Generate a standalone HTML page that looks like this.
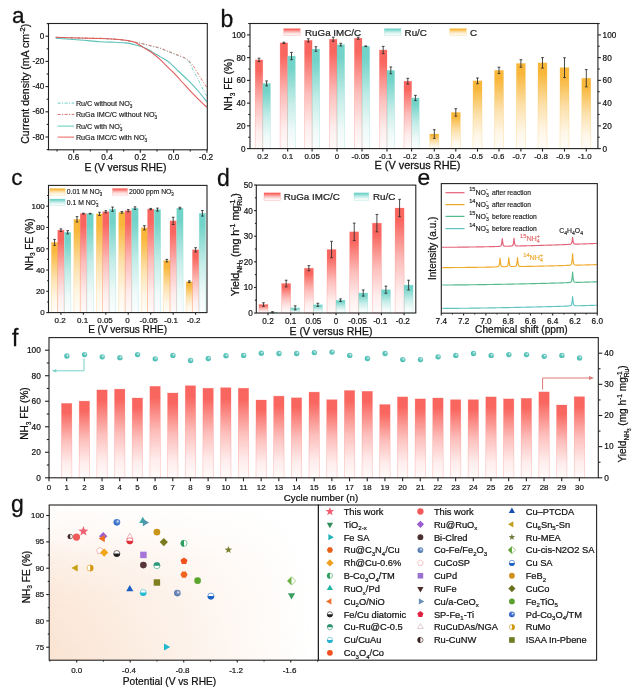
<!DOCTYPE html>
<html><head><meta charset="utf-8"><style>
html,body{margin:0;padding:0;background:#fff;width:642px;height:700px;overflow:hidden;}
svg{display:block;font-family:"Liberation Sans", sans-serif;filter:blur(0.35px);}
</style></head><body>
<svg width="642" height="700" viewBox="0 0 642 700">
<defs><linearGradient id="gr" x1="0" y1="0" x2="0" y2="1"><stop offset="0" stop-color="#f9665f"/><stop offset="0.12" stop-color="#f9665f"/><stop offset="0.5" stop-color="#f9665f" stop-opacity="0.42"/><stop offset="0.8" stop-color="#f9665f" stop-opacity="0.12"/><stop offset="1" stop-color="#f9665f" stop-opacity="0.03"/></linearGradient><linearGradient id="gt" x1="0" y1="0" x2="0" y2="1"><stop offset="0" stop-color="#72d3c8"/><stop offset="0.12" stop-color="#72d3c8"/><stop offset="0.5" stop-color="#72d3c8" stop-opacity="0.42"/><stop offset="0.8" stop-color="#72d3c8" stop-opacity="0.12"/><stop offset="1" stop-color="#72d3c8" stop-opacity="0.03"/></linearGradient><linearGradient id="gy" x1="0" y1="0" x2="0" y2="1"><stop offset="0" stop-color="#f8b73b"/><stop offset="0.12" stop-color="#f8b73b"/><stop offset="0.5" stop-color="#f8b73b" stop-opacity="0.42"/><stop offset="0.8" stop-color="#f8b73b" stop-opacity="0.12"/><stop offset="1" stop-color="#f8b73b" stop-opacity="0.03"/></linearGradient><linearGradient id="gf" x1="0" y1="0" x2="0" y2="1"><stop offset="0" stop-color="#f9665f"/><stop offset="0.12" stop-color="#f9665f"/><stop offset="0.5" stop-color="#f9665f" stop-opacity="0.42"/><stop offset="0.8" stop-color="#f9665f" stop-opacity="0.12"/><stop offset="1" stop-color="#f9665f" stop-opacity="0.03"/></linearGradient><radialGradient id="sp3bb8ad" cx="0.62" cy="0.38" r="0.7"><stop offset="0" stop-color="#fff"/><stop offset="0.35" stop-color="#3bb8ad" stop-opacity="0.75"/><stop offset="1" stop-color="#3bb8ad"/></radialGradient><linearGradient id="gbgv" x1="0" y1="0" x2="0" y2="1"><stop offset="0" stop-color="#f9dcc6" stop-opacity="0.04"/><stop offset="0.2" stop-color="#f9dcc6" stop-opacity="0.2"/><stop offset="0.36" stop-color="#f9dcc6" stop-opacity="0.45"/><stop offset="0.6" stop-color="#f9dcc6" stop-opacity="0.66"/><stop offset="1" stop-color="#f9dcc6" stop-opacity="0.78"/></linearGradient><linearGradient id="gbgh" x1="0" y1="0" x2="1" y2="0"><stop offset="0" stop-color="#fff"/><stop offset="0.5" stop-color="#fff" stop-opacity="0.5"/><stop offset="0.92" stop-color="#fff" stop-opacity="0.04"/><stop offset="1" stop-color="#fff" stop-opacity="0"/></linearGradient><mask id="gbgm" maskUnits="userSpaceOnUse" x="49.2" y="505" width="269.2" height="155.2"><rect x="49.2" y="505" width="269.2" height="155.2" fill="url(#gbgh)"/></mask><radialGradient id="sp1f5fc4" cx="0.62" cy="0.38" r="0.7"><stop offset="0" stop-color="#fff"/><stop offset="0.35" stop-color="#1f5fc4" stop-opacity="0.75"/><stop offset="1" stop-color="#1f5fc4"/></radialGradient><radialGradient id="sp4a6ea8" cx="0.62" cy="0.38" r="0.7"><stop offset="0" stop-color="#fff"/><stop offset="0.35" stop-color="#4a6ea8" stop-opacity="0.75"/><stop offset="1" stop-color="#4a6ea8"/></radialGradient><radialGradient id="sp3f6ea8" cx="0.62" cy="0.38" r="0.7"><stop offset="0" stop-color="#fff"/><stop offset="0.35" stop-color="#3f6ea8" stop-opacity="0.75"/><stop offset="1" stop-color="#3f6ea8"/></radialGradient><radialGradient id="sp1a50c0" cx="0.62" cy="0.38" r="0.7"><stop offset="0" stop-color="#fff"/><stop offset="0.35" stop-color="#1a50c0" stop-opacity="0.75"/><stop offset="1" stop-color="#1a50c0"/></radialGradient></defs>
<text x="11.9" y="22.9" font-size="22.5" text-anchor="start" fill="#111" stroke="#111" stroke-width="0.28">a</text>
<path d="M55.7,37.6 C59.75,37.72 72.62,38.13 80,38.3 C87.38,38.47 93.33,38.35 100,38.6 C106.67,38.85 114.28,39.18 120,39.8 C125.72,40.42 130.5,41.6 134.3,42.3 C138.1,43 139.95,43.35 142.8,44 C145.65,44.65 148.53,45.47 151.4,46.2 C154.27,46.93 157.15,47.47 160,48.4 C162.85,49.33 165.65,50.67 168.5,51.8 C171.35,52.93 174.23,54.03 177.1,55.2 C179.97,56.37 183.57,57.48 185.7,58.8 C187.83,60.12 188.68,61.23 189.9,63.1 C191.12,64.97 191.82,67.63 193,70 C194.18,72.37 195.17,73.73 197,77.3 C198.83,80.87 202.37,88.25 204,91.4 C205.63,94.55 206.33,95.4 206.8,96.2" fill="none" stroke="#6fcfc6" stroke-width="0.9" stroke-linejoin="round" stroke-dasharray="3 1.6 1 1.6"/>
<path d="M55.7,37.3 C59.75,37.42 72.62,37.85 80,38 C87.38,38.15 93.33,37.95 100,38.2 C106.67,38.45 114.28,38.87 120,39.5 C125.72,40.13 130.5,41.3 134.3,42 C138.1,42.7 139.95,43.07 142.8,43.7 C145.65,44.33 148.53,45.08 151.4,45.8 C154.27,46.52 157.15,47.07 160,48 C162.85,48.93 165.65,50.27 168.5,51.4 C171.35,52.53 174.23,53.65 177.1,54.8 C179.97,55.95 183.57,57.1 185.7,58.3 C187.83,59.5 188.52,60.55 189.9,62 C191.28,63.45 192.43,64.72 194,67 C195.57,69.28 197.17,72.28 199.3,75.7 C201.43,79.12 205.55,85.53 206.8,87.5" fill="none" stroke="#d9706c" stroke-width="0.9" stroke-linejoin="round" stroke-dasharray="3 1.6 1 1.6"/>
<path d="M55.7,38.3 C59.75,38.58 72.62,39.43 80,40 C87.38,40.57 94.17,41.32 100,41.7 C105.83,42.08 110.72,42.1 115,42.3 C119.28,42.5 122.48,42.52 125.7,42.9 C128.92,43.28 131.45,43.9 134.3,44.6 C137.15,45.3 139.95,45.97 142.8,47.1 C145.65,48.23 148.53,49.82 151.4,51.4 C154.27,52.98 157.15,54.88 160,56.6 C162.85,58.32 165.88,59.7 168.5,61.7 C171.12,63.7 172.83,65.88 175.7,68.6 C178.57,71.32 183.08,75.5 185.7,78 C188.32,80.5 189.18,81.27 191.4,83.6 C193.62,85.93 196.43,88.98 199,92 C201.57,95.02 205.5,100.08 206.8,101.7" fill="none" stroke="#5cc2b8" stroke-width="1.1" stroke-linejoin="round"/>
<path d="M55.7,37.3 C59.75,37.42 72.62,37.8 80,38 C87.38,38.2 94.17,38.28 100,38.5 C105.83,38.72 110.72,39 115,39.3 C119.28,39.6 122.48,39.85 125.7,40.3 C128.92,40.75 131.45,40.87 134.3,42 C137.15,43.13 139.95,45.38 142.8,47.1 C145.65,48.82 148.53,50.25 151.4,52.3 C154.27,54.35 157.15,56.8 160,59.4 C162.85,62 165.88,65.32 168.5,67.9 C171.12,70.48 173.28,72.38 175.7,74.9 C178.12,77.42 180.38,80.12 183,83 C185.62,85.88 188.73,89.4 191.4,92.2 C194.07,95 196.43,97.3 199,99.8 C201.57,102.3 205.5,105.97 206.8,107.2" fill="none" stroke="#e05c5c" stroke-width="1.1" stroke-linejoin="round"/>
<line x1="57.6" y1="103.1" x2="74.2" y2="103.1" stroke="#66cfc4" stroke-width="1" stroke-dasharray="3 1.5 1 1.5"/>
<text x="75.9" y="105.7" font-size="7.2" text-anchor="start" fill="#222" stroke="#222" stroke-width="0.17"><tspan font-size="7.2">Ru/C without </tspan><tspan font-size="7.2">NO</tspan><tspan font-size="4.68" dy="2.02">3</tspan><tspan font-size="4.68" dy="-4.75" dx="-2.61">-</tspan></text>
<line x1="57.6" y1="114.4" x2="74.2" y2="114.4" stroke="#d9706c" stroke-width="1" stroke-dasharray="3 1.5 1 1.5"/>
<text x="75.9" y="117" font-size="7.2" text-anchor="start" fill="#222" stroke="#222" stroke-width="0.17"><tspan font-size="7.2">RuGa IMC/C without </tspan><tspan font-size="7.2">NO</tspan><tspan font-size="4.68" dy="2.02">3</tspan><tspan font-size="4.68" dy="-4.75" dx="-2.61">-</tspan></text>
<line x1="57.6" y1="126.1" x2="74.2" y2="126.1" stroke="#5fcdc2" stroke-width="1"/>
<text x="75.9" y="128.7" font-size="7.2" text-anchor="start" fill="#222" stroke="#222" stroke-width="0.17"><tspan font-size="7.2">Ru/C with </tspan><tspan font-size="7.2">NO</tspan><tspan font-size="4.68" dy="2.02">3</tspan><tspan font-size="4.68" dy="-4.75" dx="-2.61">-</tspan></text>
<line x1="57.6" y1="137.1" x2="74.2" y2="137.1" stroke="#e8605d" stroke-width="1"/>
<text x="75.9" y="139.7" font-size="7.2" text-anchor="start" fill="#222" stroke="#222" stroke-width="0.17"><tspan font-size="7.2">RuGa IMC/C with </tspan><tspan font-size="7.2">NO</tspan><tspan font-size="4.68" dy="2.02">3</tspan><tspan font-size="4.68" dy="-4.75" dx="-2.61">-</tspan></text>
<rect x="48.5" y="23.5" width="158.8" height="126.3" fill="none" stroke="#222" stroke-width="1.1"/>
<line x1="73.7" y1="149.8" x2="73.7" y2="152.8" stroke="#222" stroke-width="1.1"/>
<text x="73.7" y="159.8" font-size="8.2" text-anchor="middle" fill="#111" stroke="#111" stroke-width="0.2">0.6</text>
<line x1="107" y1="149.8" x2="107" y2="152.8" stroke="#222" stroke-width="1.1"/>
<text x="107" y="159.8" font-size="8.2" text-anchor="middle" fill="#111" stroke="#111" stroke-width="0.2">0.4</text>
<line x1="140.3" y1="149.8" x2="140.3" y2="152.8" stroke="#222" stroke-width="1.1"/>
<text x="140.3" y="159.8" font-size="8.2" text-anchor="middle" fill="#111" stroke="#111" stroke-width="0.2">0.2</text>
<line x1="173.6" y1="149.8" x2="173.6" y2="152.8" stroke="#222" stroke-width="1.1"/>
<text x="173.6" y="159.8" font-size="8.2" text-anchor="middle" fill="#111" stroke="#111" stroke-width="0.2">0.0</text>
<line x1="206.9" y1="149.8" x2="206.9" y2="152.8" stroke="#222" stroke-width="1.1"/>
<text x="206" y="159.8" font-size="8.2" text-anchor="middle" fill="#111" stroke="#111" stroke-width="0.2">-0.2</text>
<line x1="57.05" y1="149.8" x2="57.05" y2="151.6" stroke="#222" stroke-width="1.1"/>
<line x1="90.35" y1="149.8" x2="90.35" y2="151.6" stroke="#222" stroke-width="1.1"/>
<line x1="123.65" y1="149.8" x2="123.65" y2="151.6" stroke="#222" stroke-width="1.1"/>
<line x1="156.95" y1="149.8" x2="156.95" y2="151.6" stroke="#222" stroke-width="1.1"/>
<line x1="190.25" y1="149.8" x2="190.25" y2="151.6" stroke="#222" stroke-width="1.1"/>
<line x1="45.5" y1="36.2" x2="48.5" y2="36.2" stroke="#222" stroke-width="1.1"/>
<text x="44.4" y="38.8" font-size="8.2" text-anchor="end" fill="#111" stroke="#111" stroke-width="0.2">0</text>
<line x1="45.5" y1="61.4" x2="48.5" y2="61.4" stroke="#222" stroke-width="1.1"/>
<text x="44.4" y="64" font-size="8.2" text-anchor="end" fill="#111" stroke="#111" stroke-width="0.2">-20</text>
<line x1="45.5" y1="86.6" x2="48.5" y2="86.6" stroke="#222" stroke-width="1.1"/>
<text x="44.4" y="89.2" font-size="8.2" text-anchor="end" fill="#111" stroke="#111" stroke-width="0.2">-40</text>
<line x1="45.5" y1="111.8" x2="48.5" y2="111.8" stroke="#222" stroke-width="1.1"/>
<text x="44.4" y="114.4" font-size="8.2" text-anchor="end" fill="#111" stroke="#111" stroke-width="0.2">-60</text>
<line x1="45.5" y1="137" x2="48.5" y2="137" stroke="#222" stroke-width="1.1"/>
<text x="44.4" y="139.6" font-size="8.2" text-anchor="end" fill="#111" stroke="#111" stroke-width="0.2">-80</text>
<line x1="46.7" y1="23.6" x2="48.5" y2="23.6" stroke="#222" stroke-width="1.1"/>
<line x1="46.7" y1="48.8" x2="48.5" y2="48.8" stroke="#222" stroke-width="1.1"/>
<line x1="46.7" y1="74" x2="48.5" y2="74" stroke="#222" stroke-width="1.1"/>
<line x1="46.7" y1="99.2" x2="48.5" y2="99.2" stroke="#222" stroke-width="1.1"/>
<line x1="46.7" y1="124.4" x2="48.5" y2="124.4" stroke="#222" stroke-width="1.1"/>
<line x1="46.7" y1="149.6" x2="48.5" y2="149.6" stroke="#222" stroke-width="1.1"/>
<text x="125.4" y="171" font-size="10.4" text-anchor="middle" fill="#111" stroke="#111" stroke-width="0.25">E (V versus RHE)</text>
<text x="29.4" y="83.8" font-size="10.5" text-anchor="middle" fill="#111" stroke="#111" stroke-width="0.25" transform="rotate(-90 29.4 83.8)"><tspan font-size="10.5">Current density (mA cm</tspan><tspan font-size="7.56" dy="-4.41">-2</tspan><tspan font-size="10.5" dy="4.41">)</tspan></text>
<text x="220.6" y="27.1" font-size="23" text-anchor="start" fill="#111" stroke="#111" stroke-width="0.28">b</text>
<rect x="255.2" y="59.91" width="7.6" height="88.69" fill="url(#gr)" stroke="#f9665f" stroke-width="0.6" stroke-opacity="0.38"/>
<rect x="262.8" y="83.45" width="7.6" height="65.15" fill="url(#gt)" stroke="#72d3c8" stroke-width="0.6" stroke-opacity="0.38"/>
<line x1="259" y1="58.21" x2="259" y2="61.62" stroke="#2a2a2a" stroke-width="0.85"/>
<line x1="257.65" y1="58.21" x2="260.35" y2="58.21" stroke="#2a2a2a" stroke-width="0.85"/>
<line x1="257.65" y1="61.62" x2="260.35" y2="61.62" stroke="#2a2a2a" stroke-width="0.85"/>
<line x1="266.6" y1="80.95" x2="266.6" y2="85.95" stroke="#2a2a2a" stroke-width="0.85"/>
<line x1="265.25" y1="80.95" x2="267.95" y2="80.95" stroke="#2a2a2a" stroke-width="0.85"/>
<line x1="265.25" y1="85.95" x2="267.95" y2="85.95" stroke="#2a2a2a" stroke-width="0.85"/>
<rect x="280.1" y="42.86" width="7.6" height="105.74" fill="url(#gr)" stroke="#f9665f" stroke-width="0.6" stroke-opacity="0.38"/>
<rect x="287.7" y="56.05" width="7.6" height="92.55" fill="url(#gt)" stroke="#72d3c8" stroke-width="0.6" stroke-opacity="0.38"/>
<line x1="283.9" y1="42.18" x2="283.9" y2="43.54" stroke="#2a2a2a" stroke-width="0.85"/>
<line x1="282.55" y1="42.18" x2="285.25" y2="42.18" stroke="#2a2a2a" stroke-width="0.85"/>
<line x1="282.55" y1="43.54" x2="285.25" y2="43.54" stroke="#2a2a2a" stroke-width="0.85"/>
<line x1="291.5" y1="52.41" x2="291.5" y2="59.69" stroke="#2a2a2a" stroke-width="0.85"/>
<line x1="290.15" y1="52.41" x2="292.85" y2="52.41" stroke="#2a2a2a" stroke-width="0.85"/>
<line x1="290.15" y1="59.69" x2="292.85" y2="59.69" stroke="#2a2a2a" stroke-width="0.85"/>
<rect x="304.5" y="40.36" width="7.6" height="108.24" fill="url(#gr)" stroke="#f9665f" stroke-width="0.6" stroke-opacity="0.38"/>
<rect x="312.1" y="49" width="7.6" height="99.6" fill="url(#gt)" stroke="#72d3c8" stroke-width="0.6" stroke-opacity="0.38"/>
<line x1="308.3" y1="38.77" x2="308.3" y2="41.95" stroke="#2a2a2a" stroke-width="0.85"/>
<line x1="306.95" y1="38.77" x2="309.65" y2="38.77" stroke="#2a2a2a" stroke-width="0.85"/>
<line x1="306.95" y1="41.95" x2="309.65" y2="41.95" stroke="#2a2a2a" stroke-width="0.85"/>
<line x1="315.9" y1="46.72" x2="315.9" y2="51.27" stroke="#2a2a2a" stroke-width="0.85"/>
<line x1="314.55" y1="46.72" x2="317.25" y2="46.72" stroke="#2a2a2a" stroke-width="0.85"/>
<line x1="314.55" y1="51.27" x2="317.25" y2="51.27" stroke="#2a2a2a" stroke-width="0.85"/>
<rect x="329.4" y="39.22" width="7.6" height="109.38" fill="url(#gr)" stroke="#f9665f" stroke-width="0.6" stroke-opacity="0.38"/>
<rect x="337" y="44.68" width="7.6" height="103.92" fill="url(#gt)" stroke="#72d3c8" stroke-width="0.6" stroke-opacity="0.38"/>
<line x1="333.2" y1="37.17" x2="333.2" y2="41.27" stroke="#2a2a2a" stroke-width="0.85"/>
<line x1="331.85" y1="37.17" x2="334.55" y2="37.17" stroke="#2a2a2a" stroke-width="0.85"/>
<line x1="331.85" y1="41.27" x2="334.55" y2="41.27" stroke="#2a2a2a" stroke-width="0.85"/>
<line x1="340.8" y1="43.31" x2="340.8" y2="46.04" stroke="#2a2a2a" stroke-width="0.85"/>
<line x1="339.45" y1="43.31" x2="342.15" y2="43.31" stroke="#2a2a2a" stroke-width="0.85"/>
<line x1="339.45" y1="46.04" x2="342.15" y2="46.04" stroke="#2a2a2a" stroke-width="0.85"/>
<rect x="354.4" y="38.2" width="7.6" height="110.4" fill="url(#gr)" stroke="#f9665f" stroke-width="0.6" stroke-opacity="0.38"/>
<rect x="362" y="46.27" width="7.6" height="102.33" fill="url(#gt)" stroke="#72d3c8" stroke-width="0.6" stroke-opacity="0.38"/>
<line x1="358.2" y1="37.17" x2="358.2" y2="39.22" stroke="#2a2a2a" stroke-width="0.85"/>
<line x1="356.85" y1="37.17" x2="359.55" y2="37.17" stroke="#2a2a2a" stroke-width="0.85"/>
<line x1="356.85" y1="39.22" x2="359.55" y2="39.22" stroke="#2a2a2a" stroke-width="0.85"/>
<line x1="365.8" y1="45.93" x2="365.8" y2="46.61" stroke="#2a2a2a" stroke-width="0.85"/>
<line x1="364.45" y1="45.93" x2="367.15" y2="45.93" stroke="#2a2a2a" stroke-width="0.85"/>
<line x1="364.45" y1="46.61" x2="367.15" y2="46.61" stroke="#2a2a2a" stroke-width="0.85"/>
<rect x="379.4" y="50.02" width="7.6" height="98.58" fill="url(#gr)" stroke="#f9665f" stroke-width="0.6" stroke-opacity="0.38"/>
<rect x="387" y="70.37" width="7.6" height="78.23" fill="url(#gt)" stroke="#72d3c8" stroke-width="0.6" stroke-opacity="0.38"/>
<line x1="383.2" y1="46.38" x2="383.2" y2="53.66" stroke="#2a2a2a" stroke-width="0.85"/>
<line x1="381.85" y1="46.38" x2="384.55" y2="46.38" stroke="#2a2a2a" stroke-width="0.85"/>
<line x1="381.85" y1="53.66" x2="384.55" y2="53.66" stroke="#2a2a2a" stroke-width="0.85"/>
<line x1="390.8" y1="66.96" x2="390.8" y2="73.79" stroke="#2a2a2a" stroke-width="0.85"/>
<line x1="389.45" y1="66.96" x2="392.15" y2="66.96" stroke="#2a2a2a" stroke-width="0.85"/>
<line x1="389.45" y1="73.79" x2="392.15" y2="73.79" stroke="#2a2a2a" stroke-width="0.85"/>
<rect x="404" y="81.18" width="7.6" height="67.42" fill="url(#gr)" stroke="#f9665f" stroke-width="0.6" stroke-opacity="0.38"/>
<rect x="411.6" y="98" width="7.6" height="50.6" fill="url(#gt)" stroke="#72d3c8" stroke-width="0.6" stroke-opacity="0.38"/>
<line x1="407.8" y1="78.33" x2="407.8" y2="84.02" stroke="#2a2a2a" stroke-width="0.85"/>
<line x1="406.45" y1="78.33" x2="409.15" y2="78.33" stroke="#2a2a2a" stroke-width="0.85"/>
<line x1="406.45" y1="84.02" x2="409.15" y2="84.02" stroke="#2a2a2a" stroke-width="0.85"/>
<line x1="415.4" y1="95.39" x2="415.4" y2="100.62" stroke="#2a2a2a" stroke-width="0.85"/>
<line x1="414.05" y1="95.39" x2="416.75" y2="95.39" stroke="#2a2a2a" stroke-width="0.85"/>
<line x1="414.05" y1="100.62" x2="416.75" y2="100.62" stroke="#2a2a2a" stroke-width="0.85"/>
<rect x="429.8" y="134.05" width="9" height="14.55" fill="url(#gy)" stroke="#f8b73b" stroke-width="0.6" stroke-opacity="0.38"/>
<line x1="434.3" y1="129.73" x2="434.3" y2="138.37" stroke="#2a2a2a" stroke-width="0.85"/>
<line x1="432.95" y1="129.73" x2="435.65" y2="129.73" stroke="#2a2a2a" stroke-width="0.85"/>
<line x1="432.95" y1="138.37" x2="435.65" y2="138.37" stroke="#2a2a2a" stroke-width="0.85"/>
<rect x="451.3" y="112.44" width="9" height="36.16" fill="url(#gy)" stroke="#f8b73b" stroke-width="0.6" stroke-opacity="0.38"/>
<line x1="455.8" y1="108.69" x2="455.8" y2="116.2" stroke="#2a2a2a" stroke-width="0.85"/>
<line x1="454.45" y1="108.69" x2="457.15" y2="108.69" stroke="#2a2a2a" stroke-width="0.85"/>
<line x1="454.45" y1="116.2" x2="457.15" y2="116.2" stroke="#2a2a2a" stroke-width="0.85"/>
<rect x="473" y="80.83" width="9" height="67.77" fill="url(#gy)" stroke="#f8b73b" stroke-width="0.6" stroke-opacity="0.38"/>
<line x1="477.5" y1="77.99" x2="477.5" y2="83.68" stroke="#2a2a2a" stroke-width="0.85"/>
<line x1="476.15" y1="77.99" x2="478.85" y2="77.99" stroke="#2a2a2a" stroke-width="0.85"/>
<line x1="476.15" y1="83.68" x2="478.85" y2="83.68" stroke="#2a2a2a" stroke-width="0.85"/>
<rect x="494.5" y="70.37" width="9" height="78.23" fill="url(#gy)" stroke="#f8b73b" stroke-width="0.6" stroke-opacity="0.38"/>
<line x1="499" y1="67.19" x2="499" y2="73.56" stroke="#2a2a2a" stroke-width="0.85"/>
<line x1="497.65" y1="67.19" x2="500.35" y2="67.19" stroke="#2a2a2a" stroke-width="0.85"/>
<line x1="497.65" y1="73.56" x2="500.35" y2="73.56" stroke="#2a2a2a" stroke-width="0.85"/>
<rect x="516.4" y="63.44" width="9" height="85.16" fill="url(#gy)" stroke="#f8b73b" stroke-width="0.6" stroke-opacity="0.38"/>
<line x1="520.9" y1="59.69" x2="520.9" y2="67.19" stroke="#2a2a2a" stroke-width="0.85"/>
<line x1="519.55" y1="59.69" x2="522.25" y2="59.69" stroke="#2a2a2a" stroke-width="0.85"/>
<line x1="519.55" y1="67.19" x2="522.25" y2="67.19" stroke="#2a2a2a" stroke-width="0.85"/>
<rect x="538" y="62.87" width="9" height="85.73" fill="url(#gy)" stroke="#f8b73b" stroke-width="0.6" stroke-opacity="0.38"/>
<line x1="542.5" y1="57.64" x2="542.5" y2="68.1" stroke="#2a2a2a" stroke-width="0.85"/>
<line x1="541.15" y1="57.64" x2="543.85" y2="57.64" stroke="#2a2a2a" stroke-width="0.85"/>
<line x1="541.15" y1="68.1" x2="543.85" y2="68.1" stroke="#2a2a2a" stroke-width="0.85"/>
<rect x="560" y="67.65" width="9" height="80.95" fill="url(#gy)" stroke="#f8b73b" stroke-width="0.6" stroke-opacity="0.38"/>
<line x1="564.5" y1="57.75" x2="564.5" y2="77.54" stroke="#2a2a2a" stroke-width="0.85"/>
<line x1="563.15" y1="57.75" x2="565.85" y2="57.75" stroke="#2a2a2a" stroke-width="0.85"/>
<line x1="563.15" y1="77.54" x2="565.85" y2="77.54" stroke="#2a2a2a" stroke-width="0.85"/>
<rect x="581.8" y="78.22" width="9" height="70.38" fill="url(#gy)" stroke="#f8b73b" stroke-width="0.6" stroke-opacity="0.38"/>
<line x1="586.3" y1="69.58" x2="586.3" y2="86.86" stroke="#2a2a2a" stroke-width="0.85"/>
<line x1="584.95" y1="69.58" x2="587.65" y2="69.58" stroke="#2a2a2a" stroke-width="0.85"/>
<line x1="584.95" y1="86.86" x2="587.65" y2="86.86" stroke="#2a2a2a" stroke-width="0.85"/>
<rect x="283.7" y="28.6" width="16.5" height="6.8" fill="url(#gr)" stroke="#f9665f" stroke-width="0.6" stroke-opacity="0.38"/>
<text x="305" y="35.6" font-size="9.8" text-anchor="start" fill="#222" stroke="#222" stroke-width="0.24">RuGa IMC/C</text>
<rect x="384.4" y="28.6" width="16.5" height="6.8" fill="url(#gt)" stroke="#72d3c8" stroke-width="0.6" stroke-opacity="0.38"/>
<text x="404.6" y="35.6" font-size="9.8" text-anchor="start" fill="#222" stroke="#222" stroke-width="0.24">Ru/C</text>
<rect x="449.8" y="28.6" width="16.5" height="6.8" fill="url(#gy)" stroke="#f8b73b" stroke-width="0.6" stroke-opacity="0.38"/>
<text x="470" y="35.6" font-size="9.8" text-anchor="start" fill="#222" stroke="#222" stroke-width="0.24">C</text>
<rect x="250" y="23.5" width="347.9" height="125.1" fill="none" stroke="#222" stroke-width="1.1"/>
<line x1="262.8" y1="148.6" x2="262.8" y2="151.6" stroke="#222" stroke-width="1.1"/>
<text x="262.8" y="158.6" font-size="7.9" text-anchor="middle" fill="#111" stroke="#111" stroke-width="0.19">0.2</text>
<line x1="287.7" y1="148.6" x2="287.7" y2="151.6" stroke="#222" stroke-width="1.1"/>
<text x="287.7" y="158.6" font-size="7.9" text-anchor="middle" fill="#111" stroke="#111" stroke-width="0.19">0.1</text>
<line x1="312.1" y1="148.6" x2="312.1" y2="151.6" stroke="#222" stroke-width="1.1"/>
<text x="312.1" y="158.6" font-size="7.9" text-anchor="middle" fill="#111" stroke="#111" stroke-width="0.19">0.05</text>
<line x1="337" y1="148.6" x2="337" y2="151.6" stroke="#222" stroke-width="1.1"/>
<text x="337" y="158.6" font-size="7.9" text-anchor="middle" fill="#111" stroke="#111" stroke-width="0.19">0</text>
<line x1="362" y1="148.6" x2="362" y2="151.6" stroke="#222" stroke-width="1.1"/>
<text x="360.5" y="158.6" font-size="7.9" text-anchor="middle" fill="#111" stroke="#111" stroke-width="0.19">-0.05</text>
<line x1="387" y1="148.6" x2="387" y2="151.6" stroke="#222" stroke-width="1.1"/>
<text x="385.5" y="158.6" font-size="7.9" text-anchor="middle" fill="#111" stroke="#111" stroke-width="0.19">-0.1</text>
<line x1="411.6" y1="148.6" x2="411.6" y2="151.6" stroke="#222" stroke-width="1.1"/>
<text x="410.1" y="158.6" font-size="7.9" text-anchor="middle" fill="#111" stroke="#111" stroke-width="0.19">-0.2</text>
<line x1="434.3" y1="148.6" x2="434.3" y2="151.6" stroke="#222" stroke-width="1.1"/>
<text x="432.8" y="158.6" font-size="7.9" text-anchor="middle" fill="#111" stroke="#111" stroke-width="0.19">-0.3</text>
<line x1="455.8" y1="148.6" x2="455.8" y2="151.6" stroke="#222" stroke-width="1.1"/>
<text x="454.3" y="158.6" font-size="7.9" text-anchor="middle" fill="#111" stroke="#111" stroke-width="0.19">-0.4</text>
<line x1="477.5" y1="148.6" x2="477.5" y2="151.6" stroke="#222" stroke-width="1.1"/>
<text x="476" y="158.6" font-size="7.9" text-anchor="middle" fill="#111" stroke="#111" stroke-width="0.19">-0.5</text>
<line x1="499" y1="148.6" x2="499" y2="151.6" stroke="#222" stroke-width="1.1"/>
<text x="497.5" y="158.6" font-size="7.9" text-anchor="middle" fill="#111" stroke="#111" stroke-width="0.19">-0.6</text>
<line x1="520.9" y1="148.6" x2="520.9" y2="151.6" stroke="#222" stroke-width="1.1"/>
<text x="519.4" y="158.6" font-size="7.9" text-anchor="middle" fill="#111" stroke="#111" stroke-width="0.19">-0.7</text>
<line x1="542.5" y1="148.6" x2="542.5" y2="151.6" stroke="#222" stroke-width="1.1"/>
<text x="541" y="158.6" font-size="7.9" text-anchor="middle" fill="#111" stroke="#111" stroke-width="0.19">-0.8</text>
<line x1="564.5" y1="148.6" x2="564.5" y2="151.6" stroke="#222" stroke-width="1.1"/>
<text x="563" y="158.6" font-size="7.9" text-anchor="middle" fill="#111" stroke="#111" stroke-width="0.19">-0.9</text>
<line x1="586.3" y1="148.6" x2="586.3" y2="151.6" stroke="#222" stroke-width="1.1"/>
<text x="584.8" y="158.6" font-size="7.9" text-anchor="middle" fill="#111" stroke="#111" stroke-width="0.19">-1.0</text>
<line x1="247" y1="148.6" x2="250" y2="148.6" stroke="#222" stroke-width="1.1"/>
<line x1="597.9" y1="148.6" x2="600.9" y2="148.6" stroke="#222" stroke-width="1.1"/>
<text x="245.6" y="151.6" font-size="8.2" text-anchor="end" fill="#111" stroke="#111" stroke-width="0.2">0</text>
<text x="602.6" y="151.6" font-size="8.2" text-anchor="start" fill="#111" stroke="#111" stroke-width="0.2">0</text>
<line x1="247" y1="125.86" x2="250" y2="125.86" stroke="#222" stroke-width="1.1"/>
<line x1="597.9" y1="125.86" x2="600.9" y2="125.86" stroke="#222" stroke-width="1.1"/>
<text x="245.6" y="128.86" font-size="8.2" text-anchor="end" fill="#111" stroke="#111" stroke-width="0.2">20</text>
<text x="602.6" y="128.86" font-size="8.2" text-anchor="start" fill="#111" stroke="#111" stroke-width="0.2">20</text>
<line x1="247" y1="103.12" x2="250" y2="103.12" stroke="#222" stroke-width="1.1"/>
<line x1="597.9" y1="103.12" x2="600.9" y2="103.12" stroke="#222" stroke-width="1.1"/>
<text x="245.6" y="106.12" font-size="8.2" text-anchor="end" fill="#111" stroke="#111" stroke-width="0.2">40</text>
<text x="602.6" y="106.12" font-size="8.2" text-anchor="start" fill="#111" stroke="#111" stroke-width="0.2">40</text>
<line x1="247" y1="80.38" x2="250" y2="80.38" stroke="#222" stroke-width="1.1"/>
<line x1="597.9" y1="80.38" x2="600.9" y2="80.38" stroke="#222" stroke-width="1.1"/>
<text x="245.6" y="83.38" font-size="8.2" text-anchor="end" fill="#111" stroke="#111" stroke-width="0.2">60</text>
<text x="602.6" y="83.38" font-size="8.2" text-anchor="start" fill="#111" stroke="#111" stroke-width="0.2">60</text>
<line x1="247" y1="57.64" x2="250" y2="57.64" stroke="#222" stroke-width="1.1"/>
<line x1="597.9" y1="57.64" x2="600.9" y2="57.64" stroke="#222" stroke-width="1.1"/>
<text x="245.6" y="60.64" font-size="8.2" text-anchor="end" fill="#111" stroke="#111" stroke-width="0.2">80</text>
<text x="602.6" y="60.64" font-size="8.2" text-anchor="start" fill="#111" stroke="#111" stroke-width="0.2">80</text>
<line x1="247" y1="34.9" x2="250" y2="34.9" stroke="#222" stroke-width="1.1"/>
<line x1="597.9" y1="34.9" x2="600.9" y2="34.9" stroke="#222" stroke-width="1.1"/>
<text x="245.6" y="37.9" font-size="8.2" text-anchor="end" fill="#111" stroke="#111" stroke-width="0.2">100</text>
<text x="602.6" y="37.9" font-size="8.2" text-anchor="start" fill="#111" stroke="#111" stroke-width="0.2">100</text>
<line x1="248.2" y1="137.23" x2="250" y2="137.23" stroke="#222" stroke-width="1.1"/>
<line x1="597.9" y1="137.23" x2="599.7" y2="137.23" stroke="#222" stroke-width="1.1"/>
<line x1="248.2" y1="114.49" x2="250" y2="114.49" stroke="#222" stroke-width="1.1"/>
<line x1="597.9" y1="114.49" x2="599.7" y2="114.49" stroke="#222" stroke-width="1.1"/>
<line x1="248.2" y1="91.75" x2="250" y2="91.75" stroke="#222" stroke-width="1.1"/>
<line x1="597.9" y1="91.75" x2="599.7" y2="91.75" stroke="#222" stroke-width="1.1"/>
<line x1="248.2" y1="69.01" x2="250" y2="69.01" stroke="#222" stroke-width="1.1"/>
<line x1="597.9" y1="69.01" x2="599.7" y2="69.01" stroke="#222" stroke-width="1.1"/>
<line x1="248.2" y1="46.27" x2="250" y2="46.27" stroke="#222" stroke-width="1.1"/>
<line x1="597.9" y1="46.27" x2="599.7" y2="46.27" stroke="#222" stroke-width="1.1"/>
<line x1="248.2" y1="23.53" x2="250" y2="23.53" stroke="#222" stroke-width="1.1"/>
<line x1="597.9" y1="23.53" x2="599.7" y2="23.53" stroke="#222" stroke-width="1.1"/>
<text x="417.5" y="168.8" font-size="10.9" text-anchor="middle" fill="#111" stroke="#111" stroke-width="0.26">E (V versus RHE)</text>
<text x="231.8" y="84.7" font-size="10" text-anchor="middle" fill="#111" stroke="#111" stroke-width="0.24" transform="rotate(-90 231.8 84.7)"><tspan font-size="10">NH</tspan><tspan font-size="6.5" dy="2.8">3</tspan><tspan font-size="10" dy="-2.8"> FE (%)</tspan></text>
<text x="11.2" y="185.2" font-size="22.5" text-anchor="start" fill="#111" stroke="#111" stroke-width="0.28">c</text>
<rect x="51.4" y="242.38" width="6.35" height="70.22" fill="url(#gy)" stroke="#f8b73b" stroke-width="0.6" stroke-opacity="0.38"/>
<rect x="57.75" y="230.14" width="6.35" height="82.46" fill="url(#gr)" stroke="#f9665f" stroke-width="0.6" stroke-opacity="0.38"/>
<rect x="64.5" y="232.27" width="6.35" height="80.33" fill="url(#gt)" stroke="#72d3c8" stroke-width="0.6" stroke-opacity="0.38"/>
<line x1="54.57" y1="239.4" x2="54.57" y2="245.36" stroke="#2a2a2a" stroke-width="0.85"/>
<line x1="53.27" y1="239.4" x2="55.87" y2="239.4" stroke="#2a2a2a" stroke-width="0.85"/>
<line x1="53.27" y1="245.36" x2="55.87" y2="245.36" stroke="#2a2a2a" stroke-width="0.85"/>
<line x1="60.92" y1="228.86" x2="60.92" y2="231.42" stroke="#2a2a2a" stroke-width="0.85"/>
<line x1="59.62" y1="228.86" x2="62.22" y2="228.86" stroke="#2a2a2a" stroke-width="0.85"/>
<line x1="59.62" y1="231.42" x2="62.22" y2="231.42" stroke="#2a2a2a" stroke-width="0.85"/>
<line x1="67.68" y1="230.67" x2="67.68" y2="233.86" stroke="#2a2a2a" stroke-width="0.85"/>
<line x1="66.38" y1="230.67" x2="68.98" y2="230.67" stroke="#2a2a2a" stroke-width="0.85"/>
<line x1="66.38" y1="233.86" x2="68.98" y2="233.86" stroke="#2a2a2a" stroke-width="0.85"/>
<rect x="73.85" y="219.29" width="6.35" height="93.31" fill="url(#gy)" stroke="#f8b73b" stroke-width="0.6" stroke-opacity="0.38"/>
<rect x="80.2" y="213.65" width="6.35" height="98.95" fill="url(#gr)" stroke="#f9665f" stroke-width="0.6" stroke-opacity="0.38"/>
<rect x="86.95" y="213.65" width="6.35" height="98.95" fill="url(#gt)" stroke="#72d3c8" stroke-width="0.6" stroke-opacity="0.38"/>
<line x1="77.02" y1="216.63" x2="77.02" y2="221.95" stroke="#2a2a2a" stroke-width="0.85"/>
<line x1="75.72" y1="216.63" x2="78.32" y2="216.63" stroke="#2a2a2a" stroke-width="0.85"/>
<line x1="75.72" y1="221.95" x2="78.32" y2="221.95" stroke="#2a2a2a" stroke-width="0.85"/>
<line x1="83.38" y1="213.22" x2="83.38" y2="214.07" stroke="#2a2a2a" stroke-width="0.85"/>
<line x1="82.08" y1="213.22" x2="84.67" y2="213.22" stroke="#2a2a2a" stroke-width="0.85"/>
<line x1="82.08" y1="214.07" x2="84.67" y2="214.07" stroke="#2a2a2a" stroke-width="0.85"/>
<line x1="90.12" y1="213.33" x2="90.12" y2="213.97" stroke="#2a2a2a" stroke-width="0.85"/>
<line x1="88.83" y1="213.33" x2="91.42" y2="213.33" stroke="#2a2a2a" stroke-width="0.85"/>
<line x1="88.83" y1="213.97" x2="91.42" y2="213.97" stroke="#2a2a2a" stroke-width="0.85"/>
<rect x="96.3" y="213.86" width="6.35" height="98.74" fill="url(#gy)" stroke="#f8b73b" stroke-width="0.6" stroke-opacity="0.38"/>
<rect x="102.65" y="211.73" width="6.35" height="100.87" fill="url(#gr)" stroke="#f9665f" stroke-width="0.6" stroke-opacity="0.38"/>
<rect x="109.4" y="209.18" width="6.35" height="103.42" fill="url(#gt)" stroke="#72d3c8" stroke-width="0.6" stroke-opacity="0.38"/>
<line x1="99.47" y1="212.26" x2="99.47" y2="215.46" stroke="#2a2a2a" stroke-width="0.85"/>
<line x1="98.17" y1="212.26" x2="100.77" y2="212.26" stroke="#2a2a2a" stroke-width="0.85"/>
<line x1="98.17" y1="215.46" x2="100.77" y2="215.46" stroke="#2a2a2a" stroke-width="0.85"/>
<line x1="105.82" y1="210.67" x2="105.82" y2="212.8" stroke="#2a2a2a" stroke-width="0.85"/>
<line x1="104.52" y1="210.67" x2="107.12" y2="210.67" stroke="#2a2a2a" stroke-width="0.85"/>
<line x1="104.52" y1="212.8" x2="107.12" y2="212.8" stroke="#2a2a2a" stroke-width="0.85"/>
<line x1="112.58" y1="207.05" x2="112.58" y2="211.31" stroke="#2a2a2a" stroke-width="0.85"/>
<line x1="111.28" y1="207.05" x2="113.88" y2="207.05" stroke="#2a2a2a" stroke-width="0.85"/>
<line x1="111.28" y1="211.31" x2="113.88" y2="211.31" stroke="#2a2a2a" stroke-width="0.85"/>
<rect x="118.75" y="212.37" width="6.35" height="100.23" fill="url(#gy)" stroke="#f8b73b" stroke-width="0.6" stroke-opacity="0.38"/>
<rect x="125.1" y="210.67" width="6.35" height="101.93" fill="url(#gr)" stroke="#f9665f" stroke-width="0.6" stroke-opacity="0.38"/>
<rect x="131.85" y="208.12" width="6.35" height="104.48" fill="url(#gt)" stroke="#72d3c8" stroke-width="0.6" stroke-opacity="0.38"/>
<line x1="121.92" y1="211.52" x2="121.92" y2="213.22" stroke="#2a2a2a" stroke-width="0.85"/>
<line x1="120.62" y1="211.52" x2="123.22" y2="211.52" stroke="#2a2a2a" stroke-width="0.85"/>
<line x1="120.62" y1="213.22" x2="123.22" y2="213.22" stroke="#2a2a2a" stroke-width="0.85"/>
<line x1="128.28" y1="209.6" x2="128.28" y2="211.73" stroke="#2a2a2a" stroke-width="0.85"/>
<line x1="126.98" y1="209.6" x2="129.58" y2="209.6" stroke="#2a2a2a" stroke-width="0.85"/>
<line x1="126.98" y1="211.73" x2="129.58" y2="211.73" stroke="#2a2a2a" stroke-width="0.85"/>
<line x1="135.03" y1="206.84" x2="135.03" y2="209.39" stroke="#2a2a2a" stroke-width="0.85"/>
<line x1="133.72" y1="206.84" x2="136.33" y2="206.84" stroke="#2a2a2a" stroke-width="0.85"/>
<line x1="133.72" y1="209.39" x2="136.33" y2="209.39" stroke="#2a2a2a" stroke-width="0.85"/>
<rect x="141.2" y="227.8" width="6.35" height="84.8" fill="url(#gy)" stroke="#f8b73b" stroke-width="0.6" stroke-opacity="0.38"/>
<rect x="147.55" y="209.07" width="6.35" height="103.53" fill="url(#gr)" stroke="#f9665f" stroke-width="0.6" stroke-opacity="0.38"/>
<rect x="154.3" y="209.6" width="6.35" height="103" fill="url(#gt)" stroke="#72d3c8" stroke-width="0.6" stroke-opacity="0.38"/>
<line x1="144.38" y1="225.67" x2="144.38" y2="229.93" stroke="#2a2a2a" stroke-width="0.85"/>
<line x1="143.07" y1="225.67" x2="145.68" y2="225.67" stroke="#2a2a2a" stroke-width="0.85"/>
<line x1="143.07" y1="229.93" x2="145.68" y2="229.93" stroke="#2a2a2a" stroke-width="0.85"/>
<line x1="150.72" y1="208.43" x2="150.72" y2="209.71" stroke="#2a2a2a" stroke-width="0.85"/>
<line x1="149.42" y1="208.43" x2="152.03" y2="208.43" stroke="#2a2a2a" stroke-width="0.85"/>
<line x1="149.42" y1="209.71" x2="152.03" y2="209.71" stroke="#2a2a2a" stroke-width="0.85"/>
<line x1="157.47" y1="208.12" x2="157.47" y2="211.09" stroke="#2a2a2a" stroke-width="0.85"/>
<line x1="156.17" y1="208.12" x2="158.78" y2="208.12" stroke="#2a2a2a" stroke-width="0.85"/>
<line x1="156.17" y1="211.09" x2="158.78" y2="211.09" stroke="#2a2a2a" stroke-width="0.85"/>
<rect x="163.65" y="260.68" width="6.35" height="51.92" fill="url(#gy)" stroke="#f8b73b" stroke-width="0.6" stroke-opacity="0.38"/>
<rect x="170" y="220.88" width="6.35" height="91.72" fill="url(#gr)" stroke="#f9665f" stroke-width="0.6" stroke-opacity="0.38"/>
<rect x="176.75" y="208.12" width="6.35" height="104.48" fill="url(#gt)" stroke="#72d3c8" stroke-width="0.6" stroke-opacity="0.38"/>
<line x1="166.83" y1="259.4" x2="166.83" y2="261.95" stroke="#2a2a2a" stroke-width="0.85"/>
<line x1="165.53" y1="259.4" x2="168.13" y2="259.4" stroke="#2a2a2a" stroke-width="0.85"/>
<line x1="165.53" y1="261.95" x2="168.13" y2="261.95" stroke="#2a2a2a" stroke-width="0.85"/>
<line x1="173.18" y1="217.27" x2="173.18" y2="224.5" stroke="#2a2a2a" stroke-width="0.85"/>
<line x1="171.88" y1="217.27" x2="174.48" y2="217.27" stroke="#2a2a2a" stroke-width="0.85"/>
<line x1="171.88" y1="224.5" x2="174.48" y2="224.5" stroke="#2a2a2a" stroke-width="0.85"/>
<line x1="179.93" y1="207.26" x2="179.93" y2="208.97" stroke="#2a2a2a" stroke-width="0.85"/>
<line x1="178.62" y1="207.26" x2="181.23" y2="207.26" stroke="#2a2a2a" stroke-width="0.85"/>
<line x1="178.62" y1="208.97" x2="181.23" y2="208.97" stroke="#2a2a2a" stroke-width="0.85"/>
<rect x="186.1" y="281.74" width="6.35" height="30.86" fill="url(#gy)" stroke="#f8b73b" stroke-width="0.6" stroke-opacity="0.38"/>
<rect x="192.45" y="249.82" width="6.35" height="62.78" fill="url(#gr)" stroke="#f9665f" stroke-width="0.6" stroke-opacity="0.38"/>
<rect x="199.2" y="213.33" width="6.35" height="99.27" fill="url(#gt)" stroke="#72d3c8" stroke-width="0.6" stroke-opacity="0.38"/>
<line x1="189.28" y1="280.89" x2="189.28" y2="282.6" stroke="#2a2a2a" stroke-width="0.85"/>
<line x1="187.97" y1="280.89" x2="190.58" y2="280.89" stroke="#2a2a2a" stroke-width="0.85"/>
<line x1="187.97" y1="282.6" x2="190.58" y2="282.6" stroke="#2a2a2a" stroke-width="0.85"/>
<line x1="195.62" y1="247.7" x2="195.62" y2="251.95" stroke="#2a2a2a" stroke-width="0.85"/>
<line x1="194.32" y1="247.7" x2="196.93" y2="247.7" stroke="#2a2a2a" stroke-width="0.85"/>
<line x1="194.32" y1="251.95" x2="196.93" y2="251.95" stroke="#2a2a2a" stroke-width="0.85"/>
<line x1="202.38" y1="210.56" x2="202.38" y2="216.1" stroke="#2a2a2a" stroke-width="0.85"/>
<line x1="201.07" y1="210.56" x2="203.68" y2="210.56" stroke="#2a2a2a" stroke-width="0.85"/>
<line x1="201.07" y1="216.1" x2="203.68" y2="216.1" stroke="#2a2a2a" stroke-width="0.85"/>
<rect x="49.8" y="188.5" width="15.3" height="6.6" fill="url(#gy)" stroke="#f8b73b" stroke-width="0.6" stroke-opacity="0.38"/>
<text x="66.8" y="194.3" font-size="6.8" text-anchor="start" fill="#222" stroke="#222" stroke-width="0.16"><tspan font-size="6.8">0.01 M </tspan><tspan font-size="6.8">NO</tspan><tspan font-size="4.42" dy="1.9">3</tspan><tspan font-size="4.42" dy="-4.49" dx="-2.45">-</tspan></text>
<rect x="49.8" y="199" width="15.3" height="6.5" fill="url(#gt)" stroke="#72d3c8" stroke-width="0.6" stroke-opacity="0.38"/>
<text x="66.8" y="204.8" font-size="6.8" text-anchor="start" fill="#222" stroke="#222" stroke-width="0.16"><tspan font-size="6.8">0.1 M </tspan><tspan font-size="6.8">NO</tspan><tspan font-size="4.42" dy="1.9">3</tspan><tspan font-size="4.42" dy="-4.49" dx="-2.45">-</tspan></text>
<rect x="112.6" y="188.5" width="14.8" height="6.6" fill="url(#gr)" stroke="#f9665f" stroke-width="0.6" stroke-opacity="0.38"/>
<text x="129" y="194.3" font-size="6.8" text-anchor="start" fill="#222" stroke="#222" stroke-width="0.16"><tspan font-size="6.8">2000 ppm </tspan><tspan font-size="6.8">NO</tspan><tspan font-size="4.42" dy="1.9">3</tspan><tspan font-size="4.42" dy="-4.49" dx="-2.45">-</tspan></text>
<rect x="48.5" y="185.4" width="158.5" height="127.2" fill="none" stroke="#222" stroke-width="1.1"/>
<line x1="60.9" y1="312.6" x2="60.9" y2="314.8" stroke="#222" stroke-width="1.1"/>
<text x="60.1" y="322.6" font-size="8" text-anchor="middle" fill="#111" stroke="#111" stroke-width="0.19">0.2</text>
<line x1="83.35" y1="312.6" x2="83.35" y2="314.8" stroke="#222" stroke-width="1.1"/>
<text x="82.55" y="322.6" font-size="8" text-anchor="middle" fill="#111" stroke="#111" stroke-width="0.19">0.1</text>
<line x1="105.8" y1="312.6" x2="105.8" y2="314.8" stroke="#222" stroke-width="1.1"/>
<text x="105" y="322.6" font-size="8" text-anchor="middle" fill="#111" stroke="#111" stroke-width="0.19">0.05</text>
<line x1="128.25" y1="312.6" x2="128.25" y2="314.8" stroke="#222" stroke-width="1.1"/>
<text x="127.45" y="322.6" font-size="8" text-anchor="middle" fill="#111" stroke="#111" stroke-width="0.19">0</text>
<line x1="150.7" y1="312.6" x2="150.7" y2="314.8" stroke="#222" stroke-width="1.1"/>
<text x="148.7" y="322.6" font-size="8" text-anchor="middle" fill="#111" stroke="#111" stroke-width="0.19">-0.05</text>
<line x1="173.15" y1="312.6" x2="173.15" y2="314.8" stroke="#222" stroke-width="1.1"/>
<text x="171.15" y="322.6" font-size="8" text-anchor="middle" fill="#111" stroke="#111" stroke-width="0.19">-0.1</text>
<line x1="195.6" y1="312.6" x2="195.6" y2="314.8" stroke="#222" stroke-width="1.1"/>
<text x="193.6" y="322.6" font-size="8" text-anchor="middle" fill="#111" stroke="#111" stroke-width="0.19">-0.2</text>
<line x1="46.3" y1="312.6" x2="48.5" y2="312.6" stroke="#222" stroke-width="1.1"/>
<text x="44.8" y="315.4" font-size="8" text-anchor="end" fill="#111" stroke="#111" stroke-width="0.19">0</text>
<line x1="46.3" y1="291.32" x2="48.5" y2="291.32" stroke="#222" stroke-width="1.1"/>
<text x="44.8" y="294.12" font-size="8" text-anchor="end" fill="#111" stroke="#111" stroke-width="0.19">20</text>
<line x1="46.3" y1="270.04" x2="48.5" y2="270.04" stroke="#222" stroke-width="1.1"/>
<text x="44.8" y="272.84" font-size="8" text-anchor="end" fill="#111" stroke="#111" stroke-width="0.19">40</text>
<line x1="46.3" y1="248.76" x2="48.5" y2="248.76" stroke="#222" stroke-width="1.1"/>
<text x="44.8" y="251.56" font-size="8" text-anchor="end" fill="#111" stroke="#111" stroke-width="0.19">60</text>
<line x1="46.3" y1="227.48" x2="48.5" y2="227.48" stroke="#222" stroke-width="1.1"/>
<text x="44.8" y="230.28" font-size="8" text-anchor="end" fill="#111" stroke="#111" stroke-width="0.19">80</text>
<line x1="46.3" y1="206.2" x2="48.5" y2="206.2" stroke="#222" stroke-width="1.1"/>
<text x="44.8" y="209" font-size="8" text-anchor="end" fill="#111" stroke="#111" stroke-width="0.19">100</text>
<line x1="47.1" y1="301.96" x2="48.5" y2="301.96" stroke="#222" stroke-width="1.1"/>
<line x1="47.1" y1="280.68" x2="48.5" y2="280.68" stroke="#222" stroke-width="1.1"/>
<line x1="47.1" y1="259.4" x2="48.5" y2="259.4" stroke="#222" stroke-width="1.1"/>
<line x1="47.1" y1="238.12" x2="48.5" y2="238.12" stroke="#222" stroke-width="1.1"/>
<line x1="47.1" y1="216.84" x2="48.5" y2="216.84" stroke="#222" stroke-width="1.1"/>
<line x1="47.1" y1="195.56" x2="48.5" y2="195.56" stroke="#222" stroke-width="1.1"/>
<text x="127.6" y="333" font-size="10" text-anchor="middle" fill="#111" stroke="#111" stroke-width="0.24">E (V versus RHE)</text>
<text x="32.6" y="244.5" font-size="10" text-anchor="middle" fill="#111" stroke="#111" stroke-width="0.24" transform="rotate(-90 32.6 244.5)"><tspan font-size="10">NH</tspan><tspan font-size="6.5" dy="2.8">3</tspan><tspan font-size="10" dy="-2.8"> FE (%)</tspan></text>
<text x="217" y="185.5" font-size="23" text-anchor="start" fill="#111" stroke="#111" stroke-width="0.28">d</text>
<rect x="259" y="304.55" width="9" height="8.45" fill="url(#gr)" stroke="#f9665f" stroke-width="0.6" stroke-opacity="0.38"/>
<rect x="268" y="312.23" width="9" height="0.77" fill="url(#gt)" stroke="#72d3c8" stroke-width="0.6" stroke-opacity="0.38"/>
<line x1="263.5" y1="302.76" x2="263.5" y2="306.34" stroke="#2a2a2a" stroke-width="0.85"/>
<line x1="262.15" y1="302.76" x2="264.85" y2="302.76" stroke="#2a2a2a" stroke-width="0.85"/>
<line x1="262.15" y1="306.34" x2="264.85" y2="306.34" stroke="#2a2a2a" stroke-width="0.85"/>
<line x1="272.5" y1="311.72" x2="272.5" y2="312.74" stroke="#2a2a2a" stroke-width="0.85"/>
<line x1="271.15" y1="311.72" x2="273.85" y2="311.72" stroke="#2a2a2a" stroke-width="0.85"/>
<line x1="271.15" y1="312.74" x2="273.85" y2="312.74" stroke="#2a2a2a" stroke-width="0.85"/>
<rect x="281.68" y="283.56" width="9" height="29.44" fill="url(#gr)" stroke="#f9665f" stroke-width="0.6" stroke-opacity="0.38"/>
<rect x="290.68" y="307.88" width="9" height="5.12" fill="url(#gt)" stroke="#72d3c8" stroke-width="0.6" stroke-opacity="0.38"/>
<line x1="286.18" y1="280.23" x2="286.18" y2="286.89" stroke="#2a2a2a" stroke-width="0.85"/>
<line x1="284.83" y1="280.23" x2="287.53" y2="280.23" stroke="#2a2a2a" stroke-width="0.85"/>
<line x1="284.83" y1="286.89" x2="287.53" y2="286.89" stroke="#2a2a2a" stroke-width="0.85"/>
<line x1="295.18" y1="305.83" x2="295.18" y2="309.93" stroke="#2a2a2a" stroke-width="0.85"/>
<line x1="293.83" y1="305.83" x2="296.53" y2="305.83" stroke="#2a2a2a" stroke-width="0.85"/>
<line x1="293.83" y1="309.93" x2="296.53" y2="309.93" stroke="#2a2a2a" stroke-width="0.85"/>
<rect x="304.36" y="268.2" width="9" height="44.8" fill="url(#gr)" stroke="#f9665f" stroke-width="0.6" stroke-opacity="0.38"/>
<rect x="313.36" y="304.81" width="9" height="8.19" fill="url(#gt)" stroke="#72d3c8" stroke-width="0.6" stroke-opacity="0.38"/>
<line x1="308.86" y1="265.64" x2="308.86" y2="270.76" stroke="#2a2a2a" stroke-width="0.85"/>
<line x1="307.51" y1="265.64" x2="310.21" y2="265.64" stroke="#2a2a2a" stroke-width="0.85"/>
<line x1="307.51" y1="270.76" x2="310.21" y2="270.76" stroke="#2a2a2a" stroke-width="0.85"/>
<line x1="317.86" y1="303.27" x2="317.86" y2="306.34" stroke="#2a2a2a" stroke-width="0.85"/>
<line x1="316.51" y1="303.27" x2="319.21" y2="303.27" stroke="#2a2a2a" stroke-width="0.85"/>
<line x1="316.51" y1="306.34" x2="319.21" y2="306.34" stroke="#2a2a2a" stroke-width="0.85"/>
<rect x="327.04" y="249.51" width="9" height="63.49" fill="url(#gr)" stroke="#f9665f" stroke-width="0.6" stroke-opacity="0.38"/>
<rect x="336.04" y="300.2" width="9" height="12.8" fill="url(#gt)" stroke="#72d3c8" stroke-width="0.6" stroke-opacity="0.38"/>
<line x1="331.54" y1="241.32" x2="331.54" y2="257.7" stroke="#2a2a2a" stroke-width="0.85"/>
<line x1="330.19" y1="241.32" x2="332.89" y2="241.32" stroke="#2a2a2a" stroke-width="0.85"/>
<line x1="330.19" y1="257.7" x2="332.89" y2="257.7" stroke="#2a2a2a" stroke-width="0.85"/>
<line x1="340.54" y1="298.92" x2="340.54" y2="301.48" stroke="#2a2a2a" stroke-width="0.85"/>
<line x1="339.19" y1="298.92" x2="341.89" y2="298.92" stroke="#2a2a2a" stroke-width="0.85"/>
<line x1="339.19" y1="301.48" x2="341.89" y2="301.48" stroke="#2a2a2a" stroke-width="0.85"/>
<rect x="349.72" y="231.85" width="9" height="81.15" fill="url(#gr)" stroke="#f9665f" stroke-width="0.6" stroke-opacity="0.38"/>
<rect x="358.72" y="293.03" width="9" height="19.97" fill="url(#gt)" stroke="#72d3c8" stroke-width="0.6" stroke-opacity="0.38"/>
<line x1="354.22" y1="223.14" x2="354.22" y2="240.55" stroke="#2a2a2a" stroke-width="0.85"/>
<line x1="352.87" y1="223.14" x2="355.57" y2="223.14" stroke="#2a2a2a" stroke-width="0.85"/>
<line x1="352.87" y1="240.55" x2="355.57" y2="240.55" stroke="#2a2a2a" stroke-width="0.85"/>
<line x1="363.22" y1="289.96" x2="363.22" y2="296.1" stroke="#2a2a2a" stroke-width="0.85"/>
<line x1="361.87" y1="289.96" x2="364.57" y2="289.96" stroke="#2a2a2a" stroke-width="0.85"/>
<line x1="361.87" y1="296.1" x2="364.57" y2="296.1" stroke="#2a2a2a" stroke-width="0.85"/>
<rect x="372.4" y="223.14" width="9" height="89.86" fill="url(#gr)" stroke="#f9665f" stroke-width="0.6" stroke-opacity="0.38"/>
<rect x="381.4" y="289.7" width="9" height="23.3" fill="url(#gt)" stroke="#72d3c8" stroke-width="0.6" stroke-opacity="0.38"/>
<line x1="376.9" y1="214.44" x2="376.9" y2="231.85" stroke="#2a2a2a" stroke-width="0.85"/>
<line x1="375.55" y1="214.44" x2="378.25" y2="214.44" stroke="#2a2a2a" stroke-width="0.85"/>
<line x1="375.55" y1="231.85" x2="378.25" y2="231.85" stroke="#2a2a2a" stroke-width="0.85"/>
<line x1="385.9" y1="286.12" x2="385.9" y2="293.29" stroke="#2a2a2a" stroke-width="0.85"/>
<line x1="384.55" y1="286.12" x2="387.25" y2="286.12" stroke="#2a2a2a" stroke-width="0.85"/>
<line x1="384.55" y1="293.29" x2="387.25" y2="293.29" stroke="#2a2a2a" stroke-width="0.85"/>
<rect x="395.08" y="208.04" width="9" height="104.96" fill="url(#gr)" stroke="#f9665f" stroke-width="0.6" stroke-opacity="0.38"/>
<rect x="404.08" y="285.1" width="9" height="27.9" fill="url(#gt)" stroke="#72d3c8" stroke-width="0.6" stroke-opacity="0.38"/>
<line x1="399.58" y1="199.34" x2="399.58" y2="216.74" stroke="#2a2a2a" stroke-width="0.85"/>
<line x1="398.23" y1="199.34" x2="400.93" y2="199.34" stroke="#2a2a2a" stroke-width="0.85"/>
<line x1="398.23" y1="216.74" x2="400.93" y2="216.74" stroke="#2a2a2a" stroke-width="0.85"/>
<line x1="408.58" y1="280.23" x2="408.58" y2="289.96" stroke="#2a2a2a" stroke-width="0.85"/>
<line x1="407.23" y1="280.23" x2="409.93" y2="280.23" stroke="#2a2a2a" stroke-width="0.85"/>
<line x1="407.23" y1="289.96" x2="409.93" y2="289.96" stroke="#2a2a2a" stroke-width="0.85"/>
<rect x="264" y="192.8" width="16.4" height="7.5" fill="url(#gr)" stroke="#f9665f" stroke-width="0.6" stroke-opacity="0.38"/>
<text x="283.7" y="200.2" font-size="9.8" text-anchor="start" fill="#222" stroke="#222" stroke-width="0.24">RuGa IMC/C</text>
<rect x="354" y="192.8" width="14.7" height="7.5" fill="url(#gt)" stroke="#72d3c8" stroke-width="0.6" stroke-opacity="0.38"/>
<text x="373" y="200.2" font-size="9.8" text-anchor="start" fill="#222" stroke="#222" stroke-width="0.24">Ru/C</text>
<rect x="256.3" y="185.1" width="159.5" height="127.9" fill="none" stroke="#222" stroke-width="1.1"/>
<line x1="268" y1="313" x2="268" y2="315.2" stroke="#222" stroke-width="1.1"/>
<text x="268" y="324.3" font-size="8.2" text-anchor="middle" fill="#111" stroke="#111" stroke-width="0.2">0.2</text>
<line x1="290.68" y1="313" x2="290.68" y2="315.2" stroke="#222" stroke-width="1.1"/>
<text x="290.68" y="324.3" font-size="8.2" text-anchor="middle" fill="#111" stroke="#111" stroke-width="0.2">0.1</text>
<line x1="313.36" y1="313" x2="313.36" y2="315.2" stroke="#222" stroke-width="1.1"/>
<text x="313.36" y="324.3" font-size="8.2" text-anchor="middle" fill="#111" stroke="#111" stroke-width="0.2">0.05</text>
<line x1="336.04" y1="313" x2="336.04" y2="315.2" stroke="#222" stroke-width="1.1"/>
<text x="336.04" y="324.3" font-size="8.2" text-anchor="middle" fill="#111" stroke="#111" stroke-width="0.2">0</text>
<line x1="358.72" y1="313" x2="358.72" y2="315.2" stroke="#222" stroke-width="1.1"/>
<text x="357.52" y="324.3" font-size="8.2" text-anchor="middle" fill="#111" stroke="#111" stroke-width="0.2">-0.05</text>
<line x1="381.4" y1="313" x2="381.4" y2="315.2" stroke="#222" stroke-width="1.1"/>
<text x="380.2" y="324.3" font-size="8.2" text-anchor="middle" fill="#111" stroke="#111" stroke-width="0.2">-0.1</text>
<line x1="404.08" y1="313" x2="404.08" y2="315.2" stroke="#222" stroke-width="1.1"/>
<text x="402.88" y="324.3" font-size="8.2" text-anchor="middle" fill="#111" stroke="#111" stroke-width="0.2">-0.2</text>
<line x1="254.1" y1="313" x2="256.3" y2="313" stroke="#222" stroke-width="1.1"/>
<text x="252.8" y="315.9" font-size="8.2" text-anchor="end" fill="#111" stroke="#111" stroke-width="0.2">0</text>
<line x1="254.1" y1="287.4" x2="256.3" y2="287.4" stroke="#222" stroke-width="1.1"/>
<text x="252.8" y="290.3" font-size="8.2" text-anchor="end" fill="#111" stroke="#111" stroke-width="0.2">10</text>
<line x1="254.1" y1="261.8" x2="256.3" y2="261.8" stroke="#222" stroke-width="1.1"/>
<text x="252.8" y="264.7" font-size="8.2" text-anchor="end" fill="#111" stroke="#111" stroke-width="0.2">20</text>
<line x1="254.1" y1="236.2" x2="256.3" y2="236.2" stroke="#222" stroke-width="1.1"/>
<text x="252.8" y="239.1" font-size="8.2" text-anchor="end" fill="#111" stroke="#111" stroke-width="0.2">30</text>
<line x1="254.1" y1="210.6" x2="256.3" y2="210.6" stroke="#222" stroke-width="1.1"/>
<text x="252.8" y="213.5" font-size="8.2" text-anchor="end" fill="#111" stroke="#111" stroke-width="0.2">40</text>
<line x1="254.1" y1="185" x2="256.3" y2="185" stroke="#222" stroke-width="1.1"/>
<text x="252.8" y="187.9" font-size="8.2" text-anchor="end" fill="#111" stroke="#111" stroke-width="0.2">50</text>
<line x1="254.9" y1="300.2" x2="256.3" y2="300.2" stroke="#222" stroke-width="1.1"/>
<line x1="254.9" y1="274.6" x2="256.3" y2="274.6" stroke="#222" stroke-width="1.1"/>
<line x1="254.9" y1="249" x2="256.3" y2="249" stroke="#222" stroke-width="1.1"/>
<line x1="254.9" y1="223.4" x2="256.3" y2="223.4" stroke="#222" stroke-width="1.1"/>
<line x1="254.9" y1="197.8" x2="256.3" y2="197.8" stroke="#222" stroke-width="1.1"/>
<text x="331" y="335.2" font-size="10.5" text-anchor="middle" fill="#111" stroke="#111" stroke-width="0.25">E (V versus RHE)</text>
<text x="238.9" y="244.7" font-size="10.7" text-anchor="middle" fill="#111" stroke="#111" stroke-width="0.26" transform="rotate(-90 238.9 244.7)"><tspan font-size="10.7">Yield</tspan><tspan font-size="6.96" dy="3">NH</tspan><tspan font-size="4.81" dy="1.5">3</tspan><tspan font-size="10.7" dy="-4.49"> (mg h</tspan><tspan font-size="6.96" dy="-4.07">-1</tspan><tspan font-size="10.7" dy="4.07"> mg</tspan><tspan font-size="6.96" dy="-4.07">-1</tspan><tspan font-size="6.96" dy="7.06" dx="-6.18">Ru</tspan><tspan font-size="10.7" dy="-3">)</tspan></text>
<text x="417.6" y="185.2" font-size="22.8" text-anchor="start" fill="#111" stroke="#111" stroke-width="0.28">e</text>
<polyline points="442.3,247.3 442.81,247.3 443.33,247.3 443.85,247.29 444.36,247.29 444.88,247.29 445.39,247.29 445.91,247.29 446.42,247.28 446.94,247.28 447.45,247.28 447.97,247.27 448.48,247.27 449,247.27 449.51,247.26 450.03,247.26 450.54,247.26 451.06,247.25 451.57,247.25 452.09,247.24 452.6,247.24 453.12,247.24 453.63,247.23 454.14,247.23 454.66,247.22 455.18,247.22 455.69,247.21 456.2,247.21 456.72,247.2 457.24,247.2 457.75,247.19 458.26,247.19 458.78,247.18 459.3,247.18 459.81,247.17 460.32,247.16 460.84,247.16 461.36,247.15 461.87,247.15 462.38,247.14 462.9,247.13 463.42,247.13 463.93,247.12 464.44,247.11 464.96,247.11 465.48,247.1 465.99,247.09 466.5,247.09 467.02,247.08 467.54,247.07 468.05,247.07 468.56,247.06 469.08,247.05 469.6,247.04 470.11,247.04 470.62,247.03 471.14,247.02 471.65,247.01 472.17,247.01 472.69,247 473.2,246.99 473.71,246.98 474.23,246.97 474.75,246.97 475.26,246.96 475.77,246.95 476.29,246.94 476.81,246.93 477.32,246.92 477.83,246.91 478.35,246.91 478.87,246.9 479.38,246.89 479.89,246.88 480.41,246.87 480.93,246.86 481.44,246.85 481.95,246.84 482.47,246.83 482.99,246.82 483.5,246.81 484.01,246.8 484.53,246.79 485.05,246.78 485.56,246.77 486.07,246.76 486.59,246.75 487.11,246.74 487.62,246.73 488.13,246.72 488.65,246.71 489.16,246.7 489.68,246.69 490.19,246.68 490.71,246.67 491.23,246.66 491.74,246.64 492.25,246.63 492.77,246.62 493.28,246.61 493.8,246.59 494.31,246.58 494.83,246.57 495.34,246.55 495.86,246.54 496.38,246.52 496.89,246.5 497.4,246.48 497.92,246.45 498.44,246.42 498.95,246.38 499.46,246.32 499.98,246.23 500.5,246.06 501.01,245.71 501.52,244.67 502.04,240.79 502.3,238.63 502.56,240.72 503.07,244.61 503.58,245.64 504.1,245.97 504.62,246.11 505.13,246.18 505.64,246.21 506.16,246.23 506.67,246.23 507.19,246.23 507.7,246.22 508.22,246.21 508.74,246.2 509.25,246.18 509.76,246.15 510.28,246.12 510.79,246.08 511.31,246.01 511.82,245.91 512.34,245.71 512.86,245.24 513.37,243.75 513.88,238.89 514,238.35 514.4,242.04 514.91,244.76 515.43,245.49 515.94,245.75 516.46,245.86 516.98,245.92 517.49,245.94 518,245.96 518.52,245.96 519.03,245.96 519.55,245.96 520.06,245.95 520.58,245.94 521.1,245.93 521.61,245.92 522.12,245.91 522.64,245.9 523.15,245.89 523.67,245.88 524.18,245.87 524.7,245.85 525.21,245.84 525.73,245.83 526.25,245.81 526.76,245.8 527.27,245.79 527.79,245.77 528.3,245.76 528.82,245.74 529.34,245.73 529.85,245.72 530.37,245.7 530.88,245.69 531.39,245.67 531.91,245.66 532.42,245.64 532.94,245.63 533.45,245.61 533.97,245.6 534.49,245.58 535,245.57 535.51,245.55 536.03,245.54 536.54,245.52 537.06,245.51 537.57,245.49 538.09,245.48 538.61,245.46 539.12,245.45 539.63,245.43 540.15,245.42 540.66,245.4 541.18,245.39 541.69,245.37 542.21,245.35 542.73,245.34 543.24,245.32 543.75,245.31 544.27,245.29 544.78,245.27 545.3,245.26 545.81,245.24 546.33,245.23 546.85,245.21 547.36,245.19 547.88,245.18 548.39,245.16 548.9,245.14 549.42,245.13 549.93,245.11 550.45,245.09 550.96,245.08 551.48,245.06 552,245.04 552.51,245.03 553.02,245.01 553.54,244.99 554.05,244.98 554.57,244.96 555.08,244.94 555.6,244.92 556.12,244.91 556.63,244.89 557.14,244.87 557.66,244.85 558.17,244.84 558.69,244.82 559.2,244.8 559.72,244.78 560.23,244.76 560.75,244.75 561.26,244.73 561.78,244.71 562.29,244.69 562.81,244.67 563.32,244.65 563.84,244.63 564.36,244.61 564.87,244.59 565.38,244.57 565.9,244.55 566.41,244.53 566.93,244.5 567.44,244.48 567.96,244.45 568.47,244.41 568.99,244.37 569.5,244.32 570.02,244.25 570.53,244.14 571.05,243.92 571.56,243.39 572.08,241.59 572.6,237.34 572.6,237.34 573.11,241.49 573.62,243.3 574.14,243.8 574.65,243.98 575.17,244.06 575.68,244.1 576.2,244.11 576.71,244.12 577.23,244.11 577.75,244.11 578.26,244.09 578.77,244.08 579.29,244.07 579.8,244.05 580.32,244.04 580.83,244.02 581.35,244 581.87,243.98 582.38,243.97 582.89,243.95 583.41,243.93 583.92,243.91 584.44,243.89 584.95,243.87 585.47,243.85 585.98,243.84 586.5,243.82 587.01,243.8 587.53,243.78 588.04,243.76 588.56,243.74 589.07,243.72 589.59,243.7 590.11,243.68 590.62,243.66 591.13,243.64 591.65,243.62 592.16,243.6 592.68,243.58 593.19,243.56 593.71,243.54 594.22,243.52 594.74,243.5 595.25,243.48 595.77,243.46 596.28,243.44 596.8,243.42" fill="none" stroke="#e3647a" stroke-width="1.15" stroke-linejoin="round"/>
<polyline points="442.3,267.6 442.81,267.6 443.33,267.6 443.85,267.59 444.36,267.59 444.88,267.59 445.39,267.59 445.91,267.59 446.42,267.59 446.94,267.58 447.45,267.58 447.97,267.58 448.48,267.58 449,267.57 449.51,267.57 450.03,267.57 450.54,267.57 451.06,267.56 451.57,267.56 452.09,267.56 452.6,267.55 453.12,267.55 453.63,267.55 454.14,267.54 454.66,267.54 455.18,267.54 455.69,267.53 456.2,267.53 456.72,267.52 457.24,267.52 457.75,267.52 458.26,267.51 458.78,267.51 459.3,267.5 459.81,267.5 460.32,267.49 460.84,267.49 461.36,267.48 461.87,267.48 462.38,267.48 462.9,267.47 463.42,267.47 463.93,267.46 464.44,267.46 464.96,267.45 465.48,267.45 465.99,267.44 466.5,267.43 467.02,267.43 467.54,267.42 468.05,267.42 468.56,267.41 469.08,267.41 469.6,267.4 470.11,267.4 470.62,267.39 471.14,267.38 471.65,267.38 472.17,267.37 472.69,267.37 473.2,267.36 473.71,267.35 474.23,267.35 474.75,267.34 475.26,267.33 475.77,267.33 476.29,267.32 476.81,267.31 477.32,267.31 477.83,267.3 478.35,267.29 478.87,267.29 479.38,267.28 479.89,267.27 480.41,267.26 480.93,267.26 481.44,267.25 481.95,267.24 482.47,267.24 482.99,267.23 483.5,267.22 484.01,267.21 484.53,267.2 485.05,267.2 485.56,267.19 486.07,267.18 486.59,267.17 487.11,267.16 487.62,267.15 488.13,267.15 488.65,267.14 489.16,267.13 489.68,267.12 490.19,267.11 490.71,267.1 491.23,267.09 491.74,267.08 492.25,267.06 492.77,267.05 493.28,267.04 493.8,267.02 494.31,267.01 494.83,266.99 495.34,266.97 495.86,266.94 496.38,266.91 496.89,266.86 497.4,266.79 497.92,266.67 498.44,266.44 498.95,265.91 499.46,264.22 499.98,258.63 500.1,257.97 500.5,262.16 501.01,265.34 501.52,266.19 502.04,266.49 502.56,266.62 503.07,266.69 503.58,266.71 504.1,266.72 504.62,266.71 505.13,266.69 505.64,266.65 506.16,266.59 506.67,266.46 507.19,266.22 507.7,265.64 508.22,263.69 508.74,257.98 508.8,257.81 509.25,262.57 509.76,265.32 510.28,266.07 510.79,266.35 511.31,266.47 511.82,266.53 512.34,266.55 512.86,266.56 513.37,266.55 513.88,266.53 514.4,266.49 514.91,266.42 515.43,266.29 515.94,266.03 516.46,265.37 516.98,263.12 517.49,257.63 517.5,257.65 518,262.93 518.52,265.3 519.03,265.97 519.55,266.22 520.06,266.34 520.58,266.4 521.1,266.44 521.61,266.46 522.12,266.47 522.64,266.47 523.15,266.47 523.67,266.47 524.18,266.46 524.7,266.46 525.21,266.45 525.73,266.44 526.25,266.44 526.76,266.43 527.27,266.42 527.79,266.41 528.3,266.4 528.82,266.39 529.34,266.38 529.85,266.37 530.37,266.36 530.88,266.35 531.39,266.34 531.91,266.33 532.42,266.32 532.94,266.31 533.45,266.3 533.97,266.29 534.49,266.27 535,266.26 535.51,266.25 536.03,266.24 536.54,266.23 537.06,266.22 537.57,266.21 538.09,266.19 538.61,266.18 539.12,266.17 539.63,266.16 540.15,266.15 540.66,266.13 541.18,266.12 541.69,266.11 542.21,266.1 542.73,266.09 543.24,266.07 543.75,266.06 544.27,266.05 544.78,266.04 545.3,266.03 545.81,266.01 546.33,266 546.85,265.99 547.36,265.98 547.88,265.96 548.39,265.95 548.9,265.94 549.42,265.92 549.93,265.91 550.45,265.9 550.96,265.89 551.48,265.87 552,265.86 552.51,265.85 553.02,265.83 553.54,265.82 554.05,265.81 554.57,265.79 555.08,265.78 555.6,265.77 556.12,265.75 556.63,265.74 557.14,265.73 557.66,265.71 558.17,265.7 558.69,265.68 559.2,265.67 559.72,265.66 560.23,265.64 560.75,265.63 561.26,265.61 561.78,265.6 562.29,265.58 562.81,265.57 563.32,265.55 563.84,265.53 564.36,265.52 564.87,265.5 565.38,265.48 565.9,265.46 566.41,265.44 566.93,265.41 567.44,265.39 567.96,265.36 568.47,265.32 568.99,265.27 569.5,265.2 570.02,265.1 570.53,264.92 571.05,264.58 571.56,263.72 572.08,260.8 572.6,253.82 572.6,253.82 573.11,260.66 573.62,263.64 574.14,264.48 574.65,264.8 575.17,264.95 575.68,265.03 576.2,265.07 576.71,265.09 577.23,265.1 577.75,265.1 578.26,265.1 578.77,265.1 579.29,265.09 579.8,265.08 580.32,265.07 580.83,265.06 581.35,265.05 581.87,265.04 582.38,265.02 582.89,265.01 583.41,265 583.92,264.98 584.44,264.97 584.95,264.96 585.47,264.94 585.98,264.93 586.5,264.91 587.01,264.9 587.53,264.89 588.04,264.87 588.56,264.86 589.07,264.84 589.59,264.83 590.11,264.81 590.62,264.8 591.13,264.78 591.65,264.77 592.16,264.75 592.68,264.74 593.19,264.72 593.71,264.7 594.22,264.69 594.74,264.67 595.25,264.66 595.77,264.64 596.28,264.63 596.8,264.61" fill="none" stroke="#efaa2c" stroke-width="1.15" stroke-linejoin="round"/>
<polyline points="442.3,285 442.81,285 443.33,285 443.85,285 444.36,284.99 444.88,284.99 445.39,284.99 445.91,284.99 446.42,284.99 446.94,284.98 447.45,284.98 447.97,284.98 448.48,284.98 449,284.97 449.51,284.97 450.03,284.97 450.54,284.97 451.06,284.96 451.57,284.96 452.09,284.96 452.6,284.95 453.12,284.95 453.63,284.94 454.14,284.94 454.66,284.94 455.18,284.93 455.69,284.93 456.2,284.93 456.72,284.92 457.24,284.92 457.75,284.91 458.26,284.91 458.78,284.9 459.3,284.9 459.81,284.89 460.32,284.89 460.84,284.88 461.36,284.88 461.87,284.87 462.38,284.87 462.9,284.86 463.42,284.86 463.93,284.85 464.44,284.85 464.96,284.84 465.48,284.84 465.99,284.83 466.5,284.83 467.02,284.82 467.54,284.82 468.05,284.81 468.56,284.8 469.08,284.8 469.6,284.79 470.11,284.79 470.62,284.78 471.14,284.77 471.65,284.77 472.17,284.76 472.69,284.75 473.2,284.75 473.71,284.74 474.23,284.73 474.75,284.73 475.26,284.72 475.77,284.71 476.29,284.71 476.81,284.7 477.32,284.69 477.83,284.69 478.35,284.68 478.87,284.67 479.38,284.66 479.89,284.66 480.41,284.65 480.93,284.64 481.44,284.64 481.95,284.63 482.47,284.62 482.99,284.61 483.5,284.6 484.01,284.6 484.53,284.59 485.05,284.58 485.56,284.57 486.07,284.57 486.59,284.56 487.11,284.55 487.62,284.54 488.13,284.53 488.65,284.52 489.16,284.52 489.68,284.51 490.19,284.5 490.71,284.49 491.23,284.48 491.74,284.47 492.25,284.47 492.77,284.46 493.28,284.45 493.8,284.44 494.31,284.43 494.83,284.42 495.34,284.41 495.86,284.4 496.38,284.39 496.89,284.39 497.4,284.38 497.92,284.37 498.44,284.36 498.95,284.35 499.46,284.34 499.98,284.33 500.5,284.32 501.01,284.31 501.52,284.3 502.04,284.29 502.56,284.28 503.07,284.27 503.58,284.26 504.1,284.25 504.62,284.24 505.13,284.23 505.64,284.22 506.16,284.21 506.67,284.2 507.19,284.19 507.7,284.18 508.22,284.17 508.74,284.16 509.25,284.15 509.76,284.14 510.28,284.13 510.79,284.12 511.31,284.11 511.82,284.1 512.34,284.09 512.86,284.08 513.37,284.07 513.88,284.06 514.4,284.05 514.91,284.04 515.43,284.03 515.94,284.02 516.46,284 516.98,283.99 517.49,283.98 518,283.97 518.52,283.96 519.03,283.95 519.55,283.94 520.06,283.93 520.58,283.92 521.1,283.9 521.61,283.89 522.12,283.88 522.64,283.87 523.15,283.86 523.67,283.85 524.18,283.84 524.7,283.82 525.21,283.81 525.73,283.8 526.25,283.79 526.76,283.78 527.27,283.77 527.79,283.75 528.3,283.74 528.82,283.73 529.34,283.72 529.85,283.71 530.37,283.69 530.88,283.68 531.39,283.67 531.91,283.66 532.42,283.65 532.94,283.63 533.45,283.62 533.97,283.61 534.49,283.6 535,283.58 535.51,283.57 536.03,283.56 536.54,283.55 537.06,283.53 537.57,283.52 538.09,283.51 538.61,283.49 539.12,283.48 539.63,283.47 540.15,283.46 540.66,283.44 541.18,283.43 541.69,283.42 542.21,283.4 542.73,283.39 543.24,283.38 543.75,283.36 544.27,283.35 544.78,283.34 545.3,283.32 545.81,283.31 546.33,283.3 546.85,283.28 547.36,283.27 547.88,283.26 548.39,283.24 548.9,283.23 549.42,283.22 549.93,283.2 550.45,283.19 550.96,283.18 551.48,283.16 552,283.15 552.51,283.13 553.02,283.12 553.54,283.11 554.05,283.09 554.57,283.08 555.08,283.06 555.6,283.05 556.12,283.03 556.63,283.02 557.14,283 557.66,282.99 558.17,282.98 558.69,282.96 559.2,282.95 559.72,282.93 560.23,282.91 560.75,282.9 561.26,282.88 561.78,282.87 562.29,282.85 562.81,282.84 563.32,282.82 563.84,282.8 564.36,282.78 564.87,282.77 565.38,282.75 565.9,282.73 566.41,282.7 566.93,282.68 567.44,282.65 567.96,282.62 568.47,282.58 568.99,282.54 569.5,282.47 570.02,282.38 570.53,282.22 571.05,281.9 571.56,281.12 572.08,278.44 572.6,272.07 572.6,272.07 573.11,278.31 573.62,281.03 574.14,281.8 574.65,282.09 575.17,282.22 575.68,282.29 576.2,282.32 576.71,282.34 577.23,282.35 577.75,282.35 578.26,282.34 578.77,282.34 579.29,282.33 579.8,282.32 580.32,282.31 580.83,282.3 581.35,282.28 581.87,282.27 582.38,282.26 582.89,282.24 583.41,282.23 583.92,282.21 584.44,282.2 584.95,282.18 585.47,282.17 585.98,282.15 586.5,282.14 587.01,282.12 587.53,282.11 588.04,282.09 588.56,282.07 589.07,282.06 589.59,282.04 590.11,282.03 590.62,282.01 591.13,281.99 591.65,281.98 592.16,281.96 592.68,281.95 593.19,281.93 593.71,281.91 594.22,281.9 594.74,281.88 595.25,281.86 595.77,281.85 596.28,281.83 596.8,281.81" fill="none" stroke="#55ba8e" stroke-width="1.15" stroke-linejoin="round"/>
<polyline points="442.3,308.4 442.81,308.4 443.33,308.4 443.85,308.4 444.36,308.39 444.88,308.39 445.39,308.39 445.91,308.39 446.42,308.39 446.94,308.38 447.45,308.38 447.97,308.38 448.48,308.38 449,308.37 449.51,308.37 450.03,308.37 450.54,308.37 451.06,308.36 451.57,308.36 452.09,308.36 452.6,308.35 453.12,308.35 453.63,308.34 454.14,308.34 454.66,308.34 455.18,308.33 455.69,308.33 456.2,308.33 456.72,308.32 457.24,308.32 457.75,308.31 458.26,308.31 458.78,308.3 459.3,308.3 459.81,308.29 460.32,308.29 460.84,308.28 461.36,308.28 461.87,308.27 462.38,308.27 462.9,308.26 463.42,308.26 463.93,308.25 464.44,308.25 464.96,308.24 465.48,308.24 465.99,308.23 466.5,308.23 467.02,308.22 467.54,308.22 468.05,308.21 468.56,308.2 469.08,308.2 469.6,308.19 470.11,308.19 470.62,308.18 471.14,308.17 471.65,308.17 472.17,308.16 472.69,308.15 473.2,308.15 473.71,308.14 474.23,308.13 474.75,308.13 475.26,308.12 475.77,308.11 476.29,308.11 476.81,308.1 477.32,308.09 477.83,308.09 478.35,308.08 478.87,308.07 479.38,308.06 479.89,308.06 480.41,308.05 480.93,308.04 481.44,308.04 481.95,308.03 482.47,308.02 482.99,308.01 483.5,308 484.01,308 484.53,307.99 485.05,307.98 485.56,307.97 486.07,307.97 486.59,307.96 487.11,307.95 487.62,307.94 488.13,307.93 488.65,307.92 489.16,307.92 489.68,307.91 490.19,307.9 490.71,307.89 491.23,307.88 491.74,307.87 492.25,307.87 492.77,307.86 493.28,307.85 493.8,307.84 494.31,307.83 494.83,307.82 495.34,307.81 495.86,307.8 496.38,307.79 496.89,307.79 497.4,307.78 497.92,307.77 498.44,307.76 498.95,307.75 499.46,307.74 499.98,307.73 500.5,307.72 501.01,307.71 501.52,307.7 502.04,307.69 502.56,307.68 503.07,307.67 503.58,307.66 504.1,307.65 504.62,307.64 505.13,307.63 505.64,307.62 506.16,307.61 506.67,307.6 507.19,307.59 507.7,307.58 508.22,307.57 508.74,307.56 509.25,307.55 509.76,307.54 510.28,307.53 510.79,307.52 511.31,307.51 511.82,307.5 512.34,307.49 512.86,307.48 513.37,307.47 513.88,307.46 514.4,307.45 514.91,307.44 515.43,307.43 515.94,307.42 516.46,307.4 516.98,307.39 517.49,307.38 518,307.37 518.52,307.36 519.03,307.35 519.55,307.34 520.06,307.33 520.58,307.32 521.1,307.3 521.61,307.29 522.12,307.28 522.64,307.27 523.15,307.26 523.67,307.25 524.18,307.24 524.7,307.22 525.21,307.21 525.73,307.2 526.25,307.19 526.76,307.18 527.27,307.17 527.79,307.15 528.3,307.14 528.82,307.13 529.34,307.12 529.85,307.11 530.37,307.09 530.88,307.08 531.39,307.07 531.91,307.06 532.42,307.05 532.94,307.03 533.45,307.02 533.97,307.01 534.49,307 535,306.98 535.51,306.97 536.03,306.96 536.54,306.95 537.06,306.93 537.57,306.92 538.09,306.91 538.61,306.89 539.12,306.88 539.63,306.87 540.15,306.86 540.66,306.84 541.18,306.83 541.69,306.82 542.21,306.8 542.73,306.79 543.24,306.78 543.75,306.76 544.27,306.75 544.78,306.74 545.3,306.73 545.81,306.71 546.33,306.7 546.85,306.68 547.36,306.67 547.88,306.66 548.39,306.64 548.9,306.63 549.42,306.62 549.93,306.6 550.45,306.59 550.96,306.58 551.48,306.56 552,306.55 552.51,306.53 553.02,306.52 553.54,306.51 554.05,306.49 554.57,306.48 555.08,306.46 555.6,306.45 556.12,306.43 556.63,306.42 557.14,306.41 557.66,306.39 558.17,306.38 558.69,306.36 559.2,306.35 559.72,306.33 560.23,306.32 560.75,306.3 561.26,306.28 561.78,306.27 562.29,306.25 562.81,306.24 563.32,306.22 563.84,306.2 564.36,306.19 564.87,306.17 565.38,306.15 565.9,306.13 566.41,306.11 566.93,306.09 567.44,306.06 567.96,306.03 568.47,305.99 568.99,305.95 569.5,305.89 570.02,305.8 570.53,305.65 571.05,305.37 571.56,304.66 572.08,302.24 572.6,296.47 572.6,296.47 573.11,302.12 573.62,304.58 574.14,305.27 574.65,305.53 575.17,305.65 575.68,305.71 576.2,305.74 576.71,305.75 577.23,305.76 577.75,305.75 578.26,305.75 578.77,305.74 579.29,305.73 579.8,305.72 580.32,305.71 580.83,305.7 581.35,305.69 581.87,305.67 582.38,305.66 582.89,305.64 583.41,305.63 583.92,305.61 584.44,305.6 584.95,305.58 585.47,305.57 585.98,305.55 586.5,305.54 587.01,305.52 587.53,305.51 588.04,305.49 588.56,305.48 589.07,305.46 589.59,305.44 590.11,305.43 590.62,305.41 591.13,305.4 591.65,305.38 592.16,305.36 592.68,305.35 593.19,305.33 593.71,305.31 594.22,305.3 594.74,305.28 595.25,305.26 595.77,305.25 596.28,305.23 596.8,305.21" fill="none" stroke="#5fc3c2" stroke-width="1.15" stroke-linejoin="round"/>
<line x1="445.5" y1="192.7" x2="464.5" y2="192.7" stroke="#e3647a" stroke-width="1.25"/>
<text x="469.2" y="194.9" font-size="7" text-anchor="start" fill="#222" stroke="#222" stroke-width="0.17"><tspan font-size="5.6" dy="-3.5">15</tspan><tspan font-size="7" dy="3.5">NO</tspan><tspan font-size="5.04" dy="1.96">3</tspan><tspan font-size="5.04" dy="-5.46" dx="-2.81">-</tspan><tspan font-size="6.7" dy="3.5" dx="2.53"> after reaction</tspan></text>
<line x1="445.5" y1="204.6" x2="464.5" y2="204.6" stroke="#efaa2c" stroke-width="1.25"/>
<text x="469.2" y="206.8" font-size="7" text-anchor="start" fill="#222" stroke="#222" stroke-width="0.17"><tspan font-size="5.6" dy="-3.5">14</tspan><tspan font-size="7" dy="3.5">NO</tspan><tspan font-size="5.04" dy="1.96">3</tspan><tspan font-size="5.04" dy="-5.46" dx="-2.81">-</tspan><tspan font-size="6.7" dy="3.5" dx="2.53"> after reaction</tspan></text>
<line x1="445.5" y1="216.4" x2="464.5" y2="216.4" stroke="#55ba8e" stroke-width="1.25"/>
<text x="469.2" y="218.6" font-size="7" text-anchor="start" fill="#222" stroke="#222" stroke-width="0.17"><tspan font-size="5.6" dy="-3.5">15</tspan><tspan font-size="7" dy="3.5">NO</tspan><tspan font-size="5.04" dy="1.96">3</tspan><tspan font-size="5.04" dy="-5.46" dx="-2.81">-</tspan><tspan font-size="6.7" dy="3.5" dx="2.53"> before reaction</tspan></text>
<line x1="445.5" y1="228.6" x2="464.5" y2="228.6" stroke="#5fc3c2" stroke-width="1.25"/>
<text x="469.2" y="230.8" font-size="7" text-anchor="start" fill="#222" stroke="#222" stroke-width="0.17"><tspan font-size="5.6" dy="-3.5">14</tspan><tspan font-size="7" dy="3.5">NO</tspan><tspan font-size="5.04" dy="1.96">3</tspan><tspan font-size="5.04" dy="-5.46" dx="-2.81">-</tspan><tspan font-size="6.7" dy="3.5" dx="2.53"> before reaction</tspan></text>
<text x="520" y="241.2" font-size="7.2" text-anchor="start" fill="#e46a6a" stroke="#e46a6a" stroke-width="0.17"><tspan font-size="5.76" dy="-3.6">15</tspan><tspan font-size="7.2" dy="3.6">NH</tspan><tspan font-size="5.18" dy="2.02">4</tspan><tspan font-size="5.18" dy="-5.62" dx="-2.89">+</tspan></text>
<text x="523.2" y="260.4" font-size="7.2" text-anchor="start" fill="#eda72a" stroke="#eda72a" stroke-width="0.17"><tspan font-size="5.76" dy="-3.6">14</tspan><tspan font-size="7.2" dy="3.6">NH</tspan><tspan font-size="5.18" dy="2.02">4</tspan><tspan font-size="5.18" dy="-5.62" dx="-2.89">+</tspan></text>
<text x="559.3" y="233.2" font-size="6.8" text-anchor="start" fill="#222" stroke="#222" stroke-width="0.16"><tspan font-size="6.8">C</tspan><tspan font-size="5.1" dy="1.5">4</tspan><tspan font-size="6.8" dy="-1.5">H</tspan><tspan font-size="5.1" dy="1.5">4</tspan><tspan font-size="6.8" dy="-1.5">O</tspan><tspan font-size="5.1" dy="1.5">4</tspan></text>
<rect x="441.3" y="183.6" width="156" height="129.6" fill="none" stroke="#222" stroke-width="1.1"/>
<line x1="441.3" y1="313.2" x2="441.3" y2="315.4" stroke="#222" stroke-width="1.1"/>
<text x="441.3" y="324" font-size="8.2" text-anchor="middle" fill="#111" stroke="#111" stroke-width="0.2">7.4</text>
<line x1="463.59" y1="313.2" x2="463.59" y2="315.4" stroke="#222" stroke-width="1.1"/>
<text x="463.59" y="324" font-size="8.2" text-anchor="middle" fill="#111" stroke="#111" stroke-width="0.2">7.2</text>
<line x1="485.87" y1="313.2" x2="485.87" y2="315.4" stroke="#222" stroke-width="1.1"/>
<text x="485.87" y="324" font-size="8.2" text-anchor="middle" fill="#111" stroke="#111" stroke-width="0.2">7.0</text>
<line x1="508.16" y1="313.2" x2="508.16" y2="315.4" stroke="#222" stroke-width="1.1"/>
<text x="508.16" y="324" font-size="8.2" text-anchor="middle" fill="#111" stroke="#111" stroke-width="0.2">6.8</text>
<line x1="530.44" y1="313.2" x2="530.44" y2="315.4" stroke="#222" stroke-width="1.1"/>
<text x="530.44" y="324" font-size="8.2" text-anchor="middle" fill="#111" stroke="#111" stroke-width="0.2">6.6</text>
<line x1="552.73" y1="313.2" x2="552.73" y2="315.4" stroke="#222" stroke-width="1.1"/>
<text x="552.73" y="324" font-size="8.2" text-anchor="middle" fill="#111" stroke="#111" stroke-width="0.2">6.4</text>
<line x1="575.01" y1="313.2" x2="575.01" y2="315.4" stroke="#222" stroke-width="1.1"/>
<text x="575.01" y="324" font-size="8.2" text-anchor="middle" fill="#111" stroke="#111" stroke-width="0.2">6.2</text>
<line x1="597.3" y1="313.2" x2="597.3" y2="315.4" stroke="#222" stroke-width="1.1"/>
<text x="597.3" y="324" font-size="8.2" text-anchor="middle" fill="#111" stroke="#111" stroke-width="0.2">6.0</text>
<line x1="452.44" y1="313.2" x2="452.44" y2="314.6" stroke="#222" stroke-width="1.1"/>
<line x1="474.73" y1="313.2" x2="474.73" y2="314.6" stroke="#222" stroke-width="1.1"/>
<line x1="497.01" y1="313.2" x2="497.01" y2="314.6" stroke="#222" stroke-width="1.1"/>
<line x1="519.3" y1="313.2" x2="519.3" y2="314.6" stroke="#222" stroke-width="1.1"/>
<line x1="541.59" y1="313.2" x2="541.59" y2="314.6" stroke="#222" stroke-width="1.1"/>
<line x1="563.87" y1="313.2" x2="563.87" y2="314.6" stroke="#222" stroke-width="1.1"/>
<line x1="586.16" y1="313.2" x2="586.16" y2="314.6" stroke="#222" stroke-width="1.1"/>
<text x="521.4" y="333" font-size="10.1" text-anchor="middle" fill="#111" stroke="#111" stroke-width="0.24">Chemical shift (ppm)</text>
<text x="435.9" y="248.3" font-size="10" text-anchor="middle" fill="#111" stroke="#111" stroke-width="0.24" transform="rotate(-90 435.9 248.3)">Intensity (a.u.)</text>
<text x="12" y="345.9" font-size="23" text-anchor="start" fill="#111" stroke="#111" stroke-width="0.28">f</text>
<rect x="61.48" y="403.4" width="10.4" height="74.4" fill="url(#gf)" stroke="#f9665f" stroke-width="0.6" stroke-opacity="0.38"/>
<rect x="79.16" y="401.1" width="10.4" height="76.7" fill="url(#gf)" stroke="#f9665f" stroke-width="0.6" stroke-opacity="0.38"/>
<rect x="96.84" y="389.9" width="10.4" height="87.9" fill="url(#gf)" stroke="#f9665f" stroke-width="0.6" stroke-opacity="0.38"/>
<rect x="114.52" y="389.1" width="10.4" height="88.7" fill="url(#gf)" stroke="#f9665f" stroke-width="0.6" stroke-opacity="0.38"/>
<rect x="132.2" y="398" width="10.4" height="79.8" fill="url(#gf)" stroke="#f9665f" stroke-width="0.6" stroke-opacity="0.38"/>
<rect x="149.88" y="386.3" width="10.4" height="91.5" fill="url(#gf)" stroke="#f9665f" stroke-width="0.6" stroke-opacity="0.38"/>
<rect x="167.56" y="393" width="10.4" height="84.8" fill="url(#gf)" stroke="#f9665f" stroke-width="0.6" stroke-opacity="0.38"/>
<rect x="185.24" y="385.7" width="10.4" height="92.1" fill="url(#gf)" stroke="#f9665f" stroke-width="0.6" stroke-opacity="0.38"/>
<rect x="202.92" y="388.2" width="10.4" height="89.6" fill="url(#gf)" stroke="#f9665f" stroke-width="0.6" stroke-opacity="0.38"/>
<rect x="220.6" y="387.7" width="10.4" height="90.1" fill="url(#gf)" stroke="#f9665f" stroke-width="0.6" stroke-opacity="0.38"/>
<rect x="238.28" y="388.2" width="10.4" height="89.6" fill="url(#gf)" stroke="#f9665f" stroke-width="0.6" stroke-opacity="0.38"/>
<rect x="255.96" y="400" width="10.4" height="77.8" fill="url(#gf)" stroke="#f9665f" stroke-width="0.6" stroke-opacity="0.38"/>
<rect x="273.64" y="396.1" width="10.4" height="81.7" fill="url(#gf)" stroke="#f9665f" stroke-width="0.6" stroke-opacity="0.38"/>
<rect x="291.32" y="397.8" width="10.4" height="80" fill="url(#gf)" stroke="#f9665f" stroke-width="0.6" stroke-opacity="0.38"/>
<rect x="309" y="392.1" width="10.4" height="85.7" fill="url(#gf)" stroke="#f9665f" stroke-width="0.6" stroke-opacity="0.38"/>
<rect x="326.68" y="399.7" width="10.4" height="78.1" fill="url(#gf)" stroke="#f9665f" stroke-width="0.6" stroke-opacity="0.38"/>
<rect x="344.36" y="390.5" width="10.4" height="87.3" fill="url(#gf)" stroke="#f9665f" stroke-width="0.6" stroke-opacity="0.38"/>
<rect x="362.04" y="391.3" width="10.4" height="86.5" fill="url(#gf)" stroke="#f9665f" stroke-width="0.6" stroke-opacity="0.38"/>
<rect x="379.72" y="404.5" width="10.4" height="73.3" fill="url(#gf)" stroke="#f9665f" stroke-width="0.6" stroke-opacity="0.38"/>
<rect x="397.4" y="396.9" width="10.4" height="80.9" fill="url(#gf)" stroke="#f9665f" stroke-width="0.6" stroke-opacity="0.38"/>
<rect x="415.08" y="398.9" width="10.4" height="78.9" fill="url(#gf)" stroke="#f9665f" stroke-width="0.6" stroke-opacity="0.38"/>
<rect x="432.76" y="398" width="10.4" height="79.8" fill="url(#gf)" stroke="#f9665f" stroke-width="0.6" stroke-opacity="0.38"/>
<rect x="450.44" y="399.7" width="10.4" height="78.1" fill="url(#gf)" stroke="#f9665f" stroke-width="0.6" stroke-opacity="0.38"/>
<rect x="468.12" y="399.7" width="10.4" height="78.1" fill="url(#gf)" stroke="#f9665f" stroke-width="0.6" stroke-opacity="0.38"/>
<rect x="485.8" y="396.9" width="10.4" height="80.9" fill="url(#gf)" stroke="#f9665f" stroke-width="0.6" stroke-opacity="0.38"/>
<rect x="503.48" y="398.9" width="10.4" height="78.9" fill="url(#gf)" stroke="#f9665f" stroke-width="0.6" stroke-opacity="0.38"/>
<rect x="521.16" y="398.3" width="10.4" height="79.5" fill="url(#gf)" stroke="#f9665f" stroke-width="0.6" stroke-opacity="0.38"/>
<rect x="538.84" y="391.9" width="10.4" height="85.9" fill="url(#gf)" stroke="#f9665f" stroke-width="0.6" stroke-opacity="0.38"/>
<rect x="556.52" y="405" width="10.4" height="72.8" fill="url(#gf)" stroke="#f9665f" stroke-width="0.6" stroke-opacity="0.38"/>
<rect x="574.2" y="396.7" width="10.4" height="81.1" fill="url(#gf)" stroke="#f9665f" stroke-width="0.6" stroke-opacity="0.38"/>
<circle cx="66.88" cy="356" r="2.67" fill="url(#sp3bb8ad)"/>
<circle cx="84.56" cy="354.6" r="2.67" fill="url(#sp3bb8ad)"/>
<circle cx="102.24" cy="356.8" r="2.67" fill="url(#sp3bb8ad)"/>
<circle cx="119.92" cy="357.7" r="2.67" fill="url(#sp3bb8ad)"/>
<circle cx="137.6" cy="354.6" r="2.67" fill="url(#sp3bb8ad)"/>
<circle cx="155.28" cy="358.8" r="2.67" fill="url(#sp3bb8ad)"/>
<circle cx="172.96" cy="355.4" r="2.67" fill="url(#sp3bb8ad)"/>
<circle cx="190.64" cy="360.5" r="2.67" fill="url(#sp3bb8ad)"/>
<circle cx="208.32" cy="358.5" r="2.67" fill="url(#sp3bb8ad)"/>
<circle cx="226" cy="355.7" r="2.67" fill="url(#sp3bb8ad)"/>
<circle cx="243.68" cy="355.4" r="2.67" fill="url(#sp3bb8ad)"/>
<circle cx="261.36" cy="353.2" r="2.67" fill="url(#sp3bb8ad)"/>
<circle cx="279.04" cy="353.5" r="2.67" fill="url(#sp3bb8ad)"/>
<circle cx="296.72" cy="353.5" r="2.67" fill="url(#sp3bb8ad)"/>
<circle cx="314.4" cy="352.6" r="2.67" fill="url(#sp3bb8ad)"/>
<circle cx="332.08" cy="352.1" r="2.67" fill="url(#sp3bb8ad)"/>
<circle cx="349.76" cy="355.4" r="2.67" fill="url(#sp3bb8ad)"/>
<circle cx="367.44" cy="358.5" r="2.67" fill="url(#sp3bb8ad)"/>
<circle cx="385.12" cy="353.5" r="2.67" fill="url(#sp3bb8ad)"/>
<circle cx="402.8" cy="359.6" r="2.67" fill="url(#sp3bb8ad)"/>
<circle cx="420.48" cy="359.6" r="2.67" fill="url(#sp3bb8ad)"/>
<circle cx="438.16" cy="356.8" r="2.67" fill="url(#sp3bb8ad)"/>
<circle cx="455.84" cy="355.4" r="2.67" fill="url(#sp3bb8ad)"/>
<circle cx="473.52" cy="353.5" r="2.67" fill="url(#sp3bb8ad)"/>
<circle cx="491.2" cy="355.4" r="2.67" fill="url(#sp3bb8ad)"/>
<circle cx="508.88" cy="354.6" r="2.67" fill="url(#sp3bb8ad)"/>
<circle cx="526.56" cy="354.6" r="2.67" fill="url(#sp3bb8ad)"/>
<circle cx="544.24" cy="356.3" r="2.67" fill="url(#sp3bb8ad)"/>
<circle cx="561.92" cy="355.4" r="2.67" fill="url(#sp3bb8ad)"/>
<circle cx="579.6" cy="357.9" r="2.67" fill="url(#sp3bb8ad)"/>
<polyline points="84,358.5 84,370.8 54.5,370.8" fill="none" stroke="#78d2c6" stroke-width="1" stroke-linejoin="round"/>
<polygon points="51.8,370.8 56.3,369 56.3,372.6" fill="#78d2c6" stroke="none" stroke-width="0.6"/>
<polyline points="542.6,389.5 542.6,378 590.5,378" fill="none" stroke="#e07a78" stroke-width="1" stroke-linejoin="round"/>
<polygon points="594,378 589,376.1 589,379.9" fill="#e07a78" stroke="none" stroke-width="0.6"/>
<rect x="49" y="337.6" width="549.3" height="140.2" fill="none" stroke="#222" stroke-width="1.1"/>
<line x1="49" y1="477.8" x2="49" y2="481.3" stroke="#222" stroke-width="1.1"/>
<text x="49" y="489.9" font-size="7.9" text-anchor="middle" fill="#111" stroke="#111" stroke-width="0.19">0</text>
<line x1="66.68" y1="477.8" x2="66.68" y2="481.3" stroke="#222" stroke-width="1.1"/>
<text x="66.68" y="489.9" font-size="7.9" text-anchor="middle" fill="#111" stroke="#111" stroke-width="0.19">1</text>
<line x1="84.36" y1="477.8" x2="84.36" y2="481.3" stroke="#222" stroke-width="1.1"/>
<text x="84.36" y="489.9" font-size="7.9" text-anchor="middle" fill="#111" stroke="#111" stroke-width="0.19">2</text>
<line x1="102.04" y1="477.8" x2="102.04" y2="481.3" stroke="#222" stroke-width="1.1"/>
<text x="102.04" y="489.9" font-size="7.9" text-anchor="middle" fill="#111" stroke="#111" stroke-width="0.19">3</text>
<line x1="119.72" y1="477.8" x2="119.72" y2="481.3" stroke="#222" stroke-width="1.1"/>
<text x="119.72" y="489.9" font-size="7.9" text-anchor="middle" fill="#111" stroke="#111" stroke-width="0.19">4</text>
<line x1="137.4" y1="477.8" x2="137.4" y2="481.3" stroke="#222" stroke-width="1.1"/>
<text x="137.4" y="489.9" font-size="7.9" text-anchor="middle" fill="#111" stroke="#111" stroke-width="0.19">5</text>
<line x1="155.08" y1="477.8" x2="155.08" y2="481.3" stroke="#222" stroke-width="1.1"/>
<text x="155.08" y="489.9" font-size="7.9" text-anchor="middle" fill="#111" stroke="#111" stroke-width="0.19">6</text>
<line x1="172.76" y1="477.8" x2="172.76" y2="481.3" stroke="#222" stroke-width="1.1"/>
<text x="172.76" y="489.9" font-size="7.9" text-anchor="middle" fill="#111" stroke="#111" stroke-width="0.19">7</text>
<line x1="190.44" y1="477.8" x2="190.44" y2="481.3" stroke="#222" stroke-width="1.1"/>
<text x="190.44" y="489.9" font-size="7.9" text-anchor="middle" fill="#111" stroke="#111" stroke-width="0.19">8</text>
<line x1="208.12" y1="477.8" x2="208.12" y2="481.3" stroke="#222" stroke-width="1.1"/>
<text x="208.12" y="489.9" font-size="7.9" text-anchor="middle" fill="#111" stroke="#111" stroke-width="0.19">9</text>
<line x1="225.8" y1="477.8" x2="225.8" y2="481.3" stroke="#222" stroke-width="1.1"/>
<text x="225.8" y="489.9" font-size="7.9" text-anchor="middle" fill="#111" stroke="#111" stroke-width="0.19">10</text>
<line x1="243.48" y1="477.8" x2="243.48" y2="481.3" stroke="#222" stroke-width="1.1"/>
<text x="243.48" y="489.9" font-size="7.9" text-anchor="middle" fill="#111" stroke="#111" stroke-width="0.19">11</text>
<line x1="261.16" y1="477.8" x2="261.16" y2="481.3" stroke="#222" stroke-width="1.1"/>
<text x="261.16" y="489.9" font-size="7.9" text-anchor="middle" fill="#111" stroke="#111" stroke-width="0.19">12</text>
<line x1="278.84" y1="477.8" x2="278.84" y2="481.3" stroke="#222" stroke-width="1.1"/>
<text x="278.84" y="489.9" font-size="7.9" text-anchor="middle" fill="#111" stroke="#111" stroke-width="0.19">13</text>
<line x1="296.52" y1="477.8" x2="296.52" y2="481.3" stroke="#222" stroke-width="1.1"/>
<text x="296.52" y="489.9" font-size="7.9" text-anchor="middle" fill="#111" stroke="#111" stroke-width="0.19">14</text>
<line x1="314.2" y1="477.8" x2="314.2" y2="481.3" stroke="#222" stroke-width="1.1"/>
<text x="314.2" y="489.9" font-size="7.9" text-anchor="middle" fill="#111" stroke="#111" stroke-width="0.19">15</text>
<line x1="331.88" y1="477.8" x2="331.88" y2="481.3" stroke="#222" stroke-width="1.1"/>
<text x="331.88" y="489.9" font-size="7.9" text-anchor="middle" fill="#111" stroke="#111" stroke-width="0.19">16</text>
<line x1="349.56" y1="477.8" x2="349.56" y2="481.3" stroke="#222" stroke-width="1.1"/>
<text x="349.56" y="489.9" font-size="7.9" text-anchor="middle" fill="#111" stroke="#111" stroke-width="0.19">17</text>
<line x1="367.24" y1="477.8" x2="367.24" y2="481.3" stroke="#222" stroke-width="1.1"/>
<text x="367.24" y="489.9" font-size="7.9" text-anchor="middle" fill="#111" stroke="#111" stroke-width="0.19">18</text>
<line x1="384.92" y1="477.8" x2="384.92" y2="481.3" stroke="#222" stroke-width="1.1"/>
<text x="384.92" y="489.9" font-size="7.9" text-anchor="middle" fill="#111" stroke="#111" stroke-width="0.19">19</text>
<line x1="402.6" y1="477.8" x2="402.6" y2="481.3" stroke="#222" stroke-width="1.1"/>
<text x="402.6" y="489.9" font-size="7.9" text-anchor="middle" fill="#111" stroke="#111" stroke-width="0.19">20</text>
<line x1="420.28" y1="477.8" x2="420.28" y2="481.3" stroke="#222" stroke-width="1.1"/>
<text x="420.28" y="489.9" font-size="7.9" text-anchor="middle" fill="#111" stroke="#111" stroke-width="0.19">21</text>
<line x1="437.96" y1="477.8" x2="437.96" y2="481.3" stroke="#222" stroke-width="1.1"/>
<text x="437.96" y="489.9" font-size="7.9" text-anchor="middle" fill="#111" stroke="#111" stroke-width="0.19">22</text>
<line x1="455.64" y1="477.8" x2="455.64" y2="481.3" stroke="#222" stroke-width="1.1"/>
<text x="455.64" y="489.9" font-size="7.9" text-anchor="middle" fill="#111" stroke="#111" stroke-width="0.19">23</text>
<line x1="473.32" y1="477.8" x2="473.32" y2="481.3" stroke="#222" stroke-width="1.1"/>
<text x="473.32" y="489.9" font-size="7.9" text-anchor="middle" fill="#111" stroke="#111" stroke-width="0.19">24</text>
<line x1="491" y1="477.8" x2="491" y2="481.3" stroke="#222" stroke-width="1.1"/>
<text x="491" y="489.9" font-size="7.9" text-anchor="middle" fill="#111" stroke="#111" stroke-width="0.19">25</text>
<line x1="508.68" y1="477.8" x2="508.68" y2="481.3" stroke="#222" stroke-width="1.1"/>
<text x="508.68" y="489.9" font-size="7.9" text-anchor="middle" fill="#111" stroke="#111" stroke-width="0.19">26</text>
<line x1="526.36" y1="477.8" x2="526.36" y2="481.3" stroke="#222" stroke-width="1.1"/>
<text x="526.36" y="489.9" font-size="7.9" text-anchor="middle" fill="#111" stroke="#111" stroke-width="0.19">27</text>
<line x1="544.04" y1="477.8" x2="544.04" y2="481.3" stroke="#222" stroke-width="1.1"/>
<text x="544.04" y="489.9" font-size="7.9" text-anchor="middle" fill="#111" stroke="#111" stroke-width="0.19">28</text>
<line x1="561.72" y1="477.8" x2="561.72" y2="481.3" stroke="#222" stroke-width="1.1"/>
<text x="561.72" y="489.9" font-size="7.9" text-anchor="middle" fill="#111" stroke="#111" stroke-width="0.19">29</text>
<line x1="579.4" y1="477.8" x2="579.4" y2="481.3" stroke="#222" stroke-width="1.1"/>
<text x="579.4" y="489.9" font-size="7.9" text-anchor="middle" fill="#111" stroke="#111" stroke-width="0.19">30</text>
<line x1="45" y1="477.8" x2="49" y2="477.8" stroke="#222" stroke-width="1.1"/>
<text x="40.8" y="480.6" font-size="8.3" text-anchor="end" fill="#111" stroke="#111" stroke-width="0.2">0</text>
<line x1="45" y1="452.28" x2="49" y2="452.28" stroke="#222" stroke-width="1.1"/>
<text x="40.8" y="455.08" font-size="8.3" text-anchor="end" fill="#111" stroke="#111" stroke-width="0.2">20</text>
<line x1="45" y1="426.76" x2="49" y2="426.76" stroke="#222" stroke-width="1.1"/>
<text x="40.8" y="429.56" font-size="8.3" text-anchor="end" fill="#111" stroke="#111" stroke-width="0.2">40</text>
<line x1="45" y1="401.24" x2="49" y2="401.24" stroke="#222" stroke-width="1.1"/>
<text x="40.8" y="404.04" font-size="8.3" text-anchor="end" fill="#111" stroke="#111" stroke-width="0.2">60</text>
<line x1="45" y1="375.72" x2="49" y2="375.72" stroke="#222" stroke-width="1.1"/>
<text x="40.8" y="378.52" font-size="8.3" text-anchor="end" fill="#111" stroke="#111" stroke-width="0.2">80</text>
<line x1="45" y1="350.2" x2="49" y2="350.2" stroke="#222" stroke-width="1.1"/>
<text x="40.8" y="353" font-size="8.3" text-anchor="end" fill="#111" stroke="#111" stroke-width="0.2">100</text>
<line x1="46.8" y1="465.04" x2="49" y2="465.04" stroke="#222" stroke-width="1.1"/>
<line x1="46.8" y1="439.52" x2="49" y2="439.52" stroke="#222" stroke-width="1.1"/>
<line x1="46.8" y1="414" x2="49" y2="414" stroke="#222" stroke-width="1.1"/>
<line x1="46.8" y1="388.48" x2="49" y2="388.48" stroke="#222" stroke-width="1.1"/>
<line x1="46.8" y1="362.96" x2="49" y2="362.96" stroke="#222" stroke-width="1.1"/>
<line x1="598.3" y1="477.8" x2="602.3" y2="477.8" stroke="#222" stroke-width="1.1"/>
<text x="604.3" y="480.6" font-size="8.3" text-anchor="start" fill="#111" stroke="#111" stroke-width="0.2">0</text>
<line x1="598.3" y1="446.65" x2="602.3" y2="446.65" stroke="#222" stroke-width="1.1"/>
<text x="604.3" y="449.45" font-size="8.3" text-anchor="start" fill="#111" stroke="#111" stroke-width="0.2">10</text>
<line x1="598.3" y1="415.5" x2="602.3" y2="415.5" stroke="#222" stroke-width="1.1"/>
<text x="604.3" y="418.3" font-size="8.3" text-anchor="start" fill="#111" stroke="#111" stroke-width="0.2">20</text>
<line x1="598.3" y1="384.35" x2="602.3" y2="384.35" stroke="#222" stroke-width="1.1"/>
<text x="604.3" y="387.15" font-size="8.3" text-anchor="start" fill="#111" stroke="#111" stroke-width="0.2">30</text>
<line x1="598.3" y1="353.2" x2="602.3" y2="353.2" stroke="#222" stroke-width="1.1"/>
<text x="604.3" y="356" font-size="8.3" text-anchor="start" fill="#111" stroke="#111" stroke-width="0.2">40</text>
<line x1="598.3" y1="462.23" x2="600.5" y2="462.23" stroke="#222" stroke-width="1.1"/>
<line x1="598.3" y1="431.07" x2="600.5" y2="431.07" stroke="#222" stroke-width="1.1"/>
<line x1="598.3" y1="399.93" x2="600.5" y2="399.93" stroke="#222" stroke-width="1.1"/>
<line x1="598.3" y1="368.77" x2="600.5" y2="368.77" stroke="#222" stroke-width="1.1"/>
<text x="321" y="501.3" font-size="9.7" text-anchor="middle" fill="#111" stroke="#111" stroke-width="0.23">Cycle number (n)</text>
<text x="27.8" y="413.5" font-size="10.1" text-anchor="middle" fill="#111" stroke="#111" stroke-width="0.24" transform="rotate(-90 27.8 413.5)"><tspan font-size="10.1">NH</tspan><tspan font-size="6.57" dy="2.83">3</tspan><tspan font-size="10.1" dy="-2.83"> FE (%)</tspan></text>
<text x="626.3" y="414" font-size="10.1" text-anchor="middle" fill="#111" stroke="#111" stroke-width="0.24" transform="rotate(-90 626.3 414)"><tspan font-size="10.1">Yield</tspan><tspan font-size="6.57" dy="2.83">NH</tspan><tspan font-size="4.54" dy="1.41">3</tspan><tspan font-size="10.1" dy="-4.24"> (mg h</tspan><tspan font-size="6.57" dy="-3.84">-1</tspan><tspan font-size="10.1" dy="3.84"> mg</tspan><tspan font-size="6.57" dy="-3.84">-1</tspan><tspan font-size="6.57" dy="6.67" dx="-5.82">Ru</tspan><tspan font-size="10.1" dy="-2.83">)</tspan></text>
<text x="11" y="511.9" font-size="23" text-anchor="start" fill="#111" stroke="#111" stroke-width="0.28">g</text>
<rect x="49.2" y="505" width="269.2" height="155.2" fill="url(#gbgv)" stroke="none" stroke-width="1" mask="url(#gbgm)"/>
<circle cx="70.3" cy="536.5" r="2.31" fill="#fff" stroke="#4a2a2a" stroke-width="0.6"/>
<path d="M70.3,533.89 A2.61,2.61 0 0 0 70.3,539.11 Z" fill="#4a2a2a"/>
<circle cx="76.5" cy="537.1" r="3.62" fill="#ef5b5b"/>
<polygon points="83.4,526.01 84.68,529.53 88.43,529.67 85.48,531.98 86.51,535.58 83.4,533.48 80.29,535.58 81.32,531.98 78.37,529.67 82.12,529.53" fill="#f06072" stroke="none" stroke-width="0.6"/>
<circle cx="116.9" cy="522.3" r="3.33" fill="url(#sp1f5fc4)"/>
<polygon points="142.8,516.76 146.39,522.97 139.21,522.97" fill="#3fa9a6" stroke="none" stroke-width="0.6"/>
<polygon points="149.04,522.6 142.83,526.19 142.83,519.01" fill="#4f95ad" stroke="none" stroke-width="0.6"/>
<circle cx="156.9" cy="532.2" r="3.33" fill="#c9961a"/>
<polygon points="163.8,537.96 167.94,542.1 163.8,546.24 159.66,542.1" fill="#7a7a20" stroke="none" stroke-width="0.6"/>
<polygon points="103.2,532.06 107.34,536.2 103.2,540.34 99.06,536.2" fill="#a15ed3" stroke="none" stroke-width="0.6"/>
<polygon points="98.56,538.6 104.77,535.01 104.77,542.19" fill="#f07020" stroke="none" stroke-width="0.6"/>
<polygon points="129.8,533.31 133.09,539 126.51,539" fill="#fff" stroke="#e7a1a8" stroke-width="0.8"/>
<circle cx="129.8" cy="540.8" r="3.03" fill="#fff" stroke="#e0303a" stroke-width="0.6"/>
<path d="M126.47,540.8 A3.33,3.33 0 0 0 133.14,540.8 Z" fill="#e0303a"/>
<polygon points="99.9,547.35 103.18,549.73 101.93,553.59 97.87,553.59 96.62,549.73" fill="#fff" stroke="#f2a8a8" stroke-width="0.8"/>
<polygon points="104.2,548.46 108.34,552.6 104.2,556.74 100.06,552.6" fill="#f0a818" stroke="none" stroke-width="0.6"/>
<circle cx="116.8" cy="553.6" r="3.03" fill="#fff" stroke="#222" stroke-width="0.6"/>
<path d="M113.47,553.6 A3.33,3.33 0 0 0 120.13,553.6 Z" fill="#222"/>
<rect x="140.18" y="551.68" width="6.44" height="6.44" fill="#a676d8" stroke="none" stroke-width="1"/>
<circle cx="143.4" cy="565.1" r="3.33" fill="#56363a"/>
<circle cx="156.9" cy="565.7" r="3.03" fill="#fff" stroke="#2a9a78" stroke-width="0.6"/>
<path d="M153.56,565.7 A3.33,3.33 0 0 1 160.24,565.7 Z" fill="#2a9a78"/>
<polygon points="71.46,568 77.67,564.41 77.67,571.59" fill="#c8a012" stroke="none" stroke-width="0.6"/>
<circle cx="90.1" cy="568" r="3.03" fill="#fff" stroke="#d69a12" stroke-width="0.6"/>
<path d="M90.1,564.66 A3.33,3.33 0 0 1 90.1,571.34 Z" fill="#d69a12"/>
<rect x="153.68" y="579.28" width="6.44" height="6.44" fill="#7f7f1f" stroke="none" stroke-width="1"/>
<polygon points="129.8,584.96 133.39,591.17 126.21,591.17" fill="#1b5fc4" stroke="none" stroke-width="0.6"/>
<circle cx="143.2" cy="592.6" r="3.03" fill="#fff" stroke="#26b9d2" stroke-width="0.6"/>
<path d="M139.86,592.6 A3.33,3.33 0 0 0 146.53,592.6 Z" fill="#26b9d2"/>
<circle cx="184" cy="543.3" r="3.03" fill="#fff" stroke="#2d9e60" stroke-width="0.6"/>
<path d="M184,539.96 A3.33,3.33 0 0 0 184,546.63 Z" fill="#2d9e60"/>
<polygon points="228.4,545.99 229.35,548.6 232.12,548.69 229.93,550.4 230.7,553.06 228.4,551.51 226.1,553.06 226.87,550.4 224.68,548.69 227.45,548.6" fill="#7a8030" stroke="none" stroke-width="0.6"/>
<polygon points="184,557.42 187.5,559.96 186.16,564.08 181.84,564.08 180.5,559.96" fill="#f0501e" stroke="none" stroke-width="0.6"/>
<polygon points="187.56,574.6 185.78,577.69 182.22,577.69 180.44,574.6 182.22,571.51 185.78,571.51" fill="#ee6420" stroke="none" stroke-width="0.6"/>
<circle cx="197.6" cy="580.7" r="3.33" fill="#5aa52c"/>
<polygon points="291.5,576.76 295.64,580.9 291.5,585.04 287.36,580.9" fill="#fff" stroke="#68b040" stroke-width="0.6"/>
<polygon points="291.5,576.76 291.5,585.04 287.36,580.9" fill="#68b040" stroke="none" stroke-width="0.6"/>
<circle cx="177.4" cy="593.1" r="3.33" fill="url(#sp4a6ea8)"/>
<circle cx="210.9" cy="596.1" r="3.03" fill="#fff" stroke="#1a62c4" stroke-width="0.6"/>
<path d="M207.56,596.1 A3.33,3.33 0 0 0 214.24,596.1 Z" fill="#1a62c4"/>
<polygon points="291.5,599.44 287.91,593.23 295.09,593.23" fill="#3a9e62" stroke="none" stroke-width="0.6"/>
<polygon points="170.24,647 164.03,650.59 164.03,643.41" fill="#1fb8cc" stroke="none" stroke-width="0.6"/>
<rect x="49.2" y="505" width="269.2" height="155.2" fill="none" stroke="#222" stroke-width="1.1"/>
<line x1="76.7" y1="660.2" x2="76.7" y2="662.4" stroke="#222" stroke-width="1.1"/>
<text x="76.7" y="672.5" font-size="8" text-anchor="middle" fill="#111" stroke="#111" stroke-width="0.19">0.0</text>
<line x1="130.22" y1="660.2" x2="130.22" y2="662.4" stroke="#222" stroke-width="1.1"/>
<text x="129.02" y="672.5" font-size="8" text-anchor="middle" fill="#111" stroke="#111" stroke-width="0.19">-0.4</text>
<line x1="183.74" y1="660.2" x2="183.74" y2="662.4" stroke="#222" stroke-width="1.1"/>
<text x="182.54" y="672.5" font-size="8" text-anchor="middle" fill="#111" stroke="#111" stroke-width="0.19">-0.8</text>
<line x1="237.26" y1="660.2" x2="237.26" y2="662.4" stroke="#222" stroke-width="1.1"/>
<text x="236.06" y="672.5" font-size="8" text-anchor="middle" fill="#111" stroke="#111" stroke-width="0.19">-1.2</text>
<line x1="290.78" y1="660.2" x2="290.78" y2="662.4" stroke="#222" stroke-width="1.1"/>
<text x="289.58" y="672.5" font-size="8" text-anchor="middle" fill="#111" stroke="#111" stroke-width="0.19">-1.6</text>
<line x1="49.94" y1="660.2" x2="49.94" y2="661.6" stroke="#222" stroke-width="1.1"/>
<line x1="103.46" y1="660.2" x2="103.46" y2="661.6" stroke="#222" stroke-width="1.1"/>
<line x1="156.98" y1="660.2" x2="156.98" y2="661.6" stroke="#222" stroke-width="1.1"/>
<line x1="210.5" y1="660.2" x2="210.5" y2="661.6" stroke="#222" stroke-width="1.1"/>
<line x1="264.02" y1="660.2" x2="264.02" y2="661.6" stroke="#222" stroke-width="1.1"/>
<line x1="317.54" y1="660.2" x2="317.54" y2="661.6" stroke="#222" stroke-width="1.1"/>
<line x1="46.2" y1="647.25" x2="49.2" y2="647.25" stroke="#222" stroke-width="1.1"/>
<text x="44.1" y="649.85" font-size="7.8" text-anchor="end" fill="#111" stroke="#111" stroke-width="0.19">75</text>
<line x1="46.2" y1="620.9" x2="49.2" y2="620.9" stroke="#222" stroke-width="1.1"/>
<text x="44.1" y="623.5" font-size="7.8" text-anchor="end" fill="#111" stroke="#111" stroke-width="0.19">80</text>
<line x1="46.2" y1="594.55" x2="49.2" y2="594.55" stroke="#222" stroke-width="1.1"/>
<text x="44.1" y="597.15" font-size="7.8" text-anchor="end" fill="#111" stroke="#111" stroke-width="0.19">85</text>
<line x1="46.2" y1="568.2" x2="49.2" y2="568.2" stroke="#222" stroke-width="1.1"/>
<text x="44.1" y="570.8" font-size="7.8" text-anchor="end" fill="#111" stroke="#111" stroke-width="0.19">90</text>
<line x1="46.2" y1="541.85" x2="49.2" y2="541.85" stroke="#222" stroke-width="1.1"/>
<text x="44.1" y="544.45" font-size="7.8" text-anchor="end" fill="#111" stroke="#111" stroke-width="0.19">95</text>
<line x1="46.2" y1="515.5" x2="49.2" y2="515.5" stroke="#222" stroke-width="1.1"/>
<text x="44.1" y="518.1" font-size="7.8" text-anchor="end" fill="#111" stroke="#111" stroke-width="0.19">100</text>
<line x1="47.8" y1="634.08" x2="49.2" y2="634.08" stroke="#222" stroke-width="1.1"/>
<line x1="47.8" y1="607.73" x2="49.2" y2="607.73" stroke="#222" stroke-width="1.1"/>
<line x1="47.8" y1="581.38" x2="49.2" y2="581.38" stroke="#222" stroke-width="1.1"/>
<line x1="47.8" y1="555.02" x2="49.2" y2="555.02" stroke="#222" stroke-width="1.1"/>
<line x1="47.8" y1="528.67" x2="49.2" y2="528.67" stroke="#222" stroke-width="1.1"/>
<text x="169.5" y="685.2" font-size="10.2" text-anchor="middle" fill="#111" stroke="#111" stroke-width="0.24">Potential (V vs RHE)</text>
<text x="29.5" y="577" font-size="10.1" text-anchor="middle" fill="#111" stroke="#111" stroke-width="0.24" transform="rotate(-90 29.5 577)"><tspan font-size="10.1">NH</tspan><tspan font-size="6.57" dy="2.83">3</tspan><tspan font-size="10.1" dy="-2.83"> FE (%)</tspan></text>
<rect x="318.4" y="505" width="278.2" height="155.2" fill="none" stroke="#222" stroke-width="1.1"/>
<polygon points="329.9,506.9 331.02,509.96 334.27,510.08 331.71,512.09 332.6,515.22 329.9,513.4 327.2,515.22 328.09,512.09 325.53,510.08 328.78,509.96" fill="#f06072" stroke="none" stroke-width="0.6"/>
<text x="343.7" y="514.8" font-size="9.3" text-anchor="start" fill="#111" stroke="#111" stroke-width="0.22">This work</text>
<polygon points="329.9,528.25 326.78,522.85 333.02,522.85" fill="#2f8f5a" stroke="none" stroke-width="0.6"/>
<text x="343.7" y="527.65" font-size="9.3" text-anchor="start" fill="#111" stroke="#111" stroke-width="0.22"><tspan font-size="9.3">TiO</tspan><tspan font-size="6.05" dy="2.6">2-x</tspan></text>
<polygon points="333.8,537.2 328.4,540.32 328.4,534.08" fill="#1fb3b8" stroke="none" stroke-width="0.6"/>
<text x="343.7" y="540.5" font-size="9.3" text-anchor="start" fill="#111" stroke="#111" stroke-width="0.22">Fe SA</text>
<polygon points="333,550.05 331.45,552.73 328.35,552.73 326.8,550.05 328.35,547.37 331.45,547.37" fill="#e8601a" stroke="none" stroke-width="0.6"/>
<text x="343.7" y="553.35" font-size="9.3" text-anchor="start" fill="#111" stroke="#111" stroke-width="0.22"><tspan font-size="9.3">Ru@C</tspan><tspan font-size="6.05" dy="2.6">3</tspan><tspan font-size="9.3" dy="-2.6">N</tspan><tspan font-size="6.05" dy="2.6">4</tspan><tspan font-size="9.3" dy="-2.6">/Cu</tspan></text>
<polygon points="329.9,559.3 333.5,562.9 329.9,566.5 326.3,562.9" fill="#f0a020" stroke="none" stroke-width="0.6"/>
<text x="343.7" y="566.2" font-size="9.3" text-anchor="start" fill="#111" stroke="#111" stroke-width="0.22">Rh@Cu-0.6%</text>
<circle cx="329.9" cy="575.75" r="2.6" fill="#fff" stroke="#2e9e5e" stroke-width="0.6"/>
<path d="M329.9,572.85 A2.9,2.9 0 0 0 329.9,578.65 Z" fill="#2e9e5e"/>
<text x="343.7" y="579.05" font-size="9.3" text-anchor="start" fill="#111" stroke="#111" stroke-width="0.22"><tspan font-size="9.3">B-Co</tspan><tspan font-size="6.05" dy="2.6">3</tspan><tspan font-size="9.3" dy="-2.6">O</tspan><tspan font-size="6.05" dy="2.6">4</tspan><tspan font-size="9.3" dy="-2.6">/TM</tspan></text>
<polygon points="329.9,584.7 333.02,590.1 326.78,590.1" fill="#1fb5a5" stroke="none" stroke-width="0.6"/>
<text x="343.7" y="591.9" font-size="9.3" text-anchor="start" fill="#111" stroke="#111" stroke-width="0.22"><tspan font-size="9.3">RuO</tspan><tspan font-size="6.05" dy="2.6">x</tspan><tspan font-size="9.3" dy="-2.6">/Pd</tspan></text>
<polygon points="326,601.45 331.4,598.33 331.4,604.57" fill="#f07030" stroke="none" stroke-width="0.6"/>
<text x="343.7" y="604.75" font-size="9.3" text-anchor="start" fill="#111" stroke="#111" stroke-width="0.22"><tspan font-size="9.3">Cu</tspan><tspan font-size="6.05" dy="2.6">2</tspan><tspan font-size="9.3" dy="-2.6">O/NiO</tspan></text>
<circle cx="329.9" cy="614.3" r="2.6" fill="#fff" stroke="#222" stroke-width="0.6"/>
<path d="M327,614.3 A2.9,2.9 0 0 0 332.8,614.3 Z" fill="#222"/>
<text x="343.7" y="617.6" font-size="9.3" text-anchor="start" fill="#111" stroke="#111" stroke-width="0.22">Fe/Cu diatomic</text>
<circle cx="329.9" cy="627.15" r="2.6" fill="#fff" stroke="#2a9070" stroke-width="0.6"/>
<path d="M327,627.15 A2.9,2.9 0 0 1 332.8,627.15 Z" fill="#2a9070"/>
<text x="343.7" y="630.45" font-size="9.3" text-anchor="start" fill="#111" stroke="#111" stroke-width="0.22">Cu-Ru@C-0.5</text>
<circle cx="329.9" cy="640" r="2.6" fill="#fff" stroke="#26b0d0" stroke-width="0.6"/>
<path d="M327,640 A2.9,2.9 0 0 0 332.8,640 Z" fill="#26b0d0"/>
<text x="343.7" y="643.3" font-size="9.3" text-anchor="start" fill="#111" stroke="#111" stroke-width="0.22">Cu/CuAu</text>
<circle cx="329.9" cy="652.85" r="2.9" fill="#f05020"/>
<text x="343.7" y="656.15" font-size="9.3" text-anchor="start" fill="#111" stroke="#111" stroke-width="0.22"><tspan font-size="9.3">Co</tspan><tspan font-size="6.05" dy="2.6">3</tspan><tspan font-size="9.3" dy="-2.6">O</tspan><tspan font-size="6.05" dy="2.6">4</tspan><tspan font-size="9.3" dy="-2.6">/Co</tspan></text>
<circle cx="420.4" cy="511.5" r="3.15" fill="#f05a5a"/>
<text x="433.9" y="514.8" font-size="9.3" text-anchor="start" fill="#111" stroke="#111" stroke-width="0.22">This work</text>
<polygon points="420.4,520.75 424,524.35 420.4,527.95 416.8,524.35" fill="#9a5ad0" stroke="none" stroke-width="0.6"/>
<text x="433.9" y="527.65" font-size="9.3" text-anchor="start" fill="#111" stroke="#111" stroke-width="0.22"><tspan font-size="9.3">Ru@RuO</tspan><tspan font-size="6.05" dy="2.6">x</tspan></text>
<circle cx="420.4" cy="537.2" r="2.9" fill="#4a3030"/>
<text x="433.9" y="540.5" font-size="9.3" text-anchor="start" fill="#111" stroke="#111" stroke-width="0.22">Bi-Clred</text>
<circle cx="420.4" cy="550.05" r="2.9" fill="url(#sp3f6ea8)"/>
<text x="433.9" y="553.35" font-size="9.3" text-anchor="start" fill="#111" stroke="#111" stroke-width="0.22"><tspan font-size="9.3">Co-Fe/Fe</tspan><tspan font-size="6.05" dy="2.6">2</tspan><tspan font-size="9.3" dy="-2.6">O</tspan><tspan font-size="6.05" dy="2.6">3</tspan></text>
<polygon points="420.4,559.9 423.25,561.97 422.16,565.33 418.64,565.33 417.55,561.97" fill="#fff" stroke="#f0b8b8" stroke-width="0.8"/>
<text x="433.9" y="566.2" font-size="9.3" text-anchor="start" fill="#111" stroke="#111" stroke-width="0.22">CuCoSP</text>
<rect x="417.6" y="572.95" width="5.6" height="5.6" fill="#9a70d0" stroke="none" stroke-width="1"/>
<text x="433.9" y="579.05" font-size="9.3" text-anchor="start" fill="#111" stroke="#111" stroke-width="0.22">CuPd</text>
<polygon points="420.4,592.5 417.28,587.1 423.52,587.1" fill="#4a2a2a" stroke="none" stroke-width="0.6"/>
<text x="433.9" y="591.9" font-size="9.3" text-anchor="start" fill="#111" stroke="#111" stroke-width="0.22">RuFe</text>
<polygon points="424.3,601.45 418.9,604.57 418.9,598.33" fill="#6a90b8" stroke="none" stroke-width="0.6"/>
<text x="433.9" y="604.75" font-size="9.3" text-anchor="start" fill="#111" stroke="#111" stroke-width="0.22"><tspan font-size="9.3">Cu/a-CeO</tspan><tspan font-size="6.05" dy="2.6">x</tspan></text>
<polygon points="420.4,611.1 423.44,613.31 422.28,616.89 418.52,616.89 417.36,613.31" fill="#e02040" stroke="none" stroke-width="0.6"/>
<text x="433.9" y="617.6" font-size="9.3" text-anchor="start" fill="#111" stroke="#111" stroke-width="0.22"><tspan font-size="9.3">SP-Fe</tspan><tspan font-size="6.05" dy="2.6">1</tspan><tspan font-size="9.3" dy="-2.6">-Ti</tspan></text>
<polygon points="420.4,623.55 423.26,628.5 417.54,628.5" fill="#fff" stroke="#d8c0c8" stroke-width="0.8"/>
<text x="433.9" y="630.45" font-size="9.3" text-anchor="start" fill="#111" stroke="#111" stroke-width="0.22">RuCuDAs/NGA</text>
<circle cx="420.4" cy="640" r="2.6" fill="#fff" stroke="#3a2020" stroke-width="0.6"/>
<path d="M420.4,637.1 A2.9,2.9 0 0 0 420.4,642.9 Z" fill="#3a2020"/>
<text x="433.9" y="643.3" font-size="9.3" text-anchor="start" fill="#111" stroke="#111" stroke-width="0.22">Ru-CuNW</text>
<polygon points="511.9,507.6 515.02,513 508.78,513" fill="#1a50b0" stroke="none" stroke-width="0.6"/>
<text x="525.7" y="514.8" font-size="9.3" text-anchor="start" fill="#111" stroke="#111" stroke-width="0.22">Cu–PTCDA</text>
<polygon points="508,524.35 513.4,521.23 513.4,527.47" fill="#c0a020" stroke="none" stroke-width="0.6"/>
<text x="525.7" y="527.65" font-size="9.3" text-anchor="start" fill="#111" stroke="#111" stroke-width="0.22"><tspan font-size="9.3">Cu</tspan><tspan font-size="6.05" dy="2.6">6</tspan><tspan font-size="9.3" dy="-2.6">Sn</tspan><tspan font-size="6.05" dy="2.6">5</tspan><tspan font-size="9.3" dy="-2.6">-Sn</tspan></text>
<polygon points="511.9,533.8 512.72,536.07 515.13,536.15 513.23,537.63 513.9,539.95 511.9,538.6 509.9,539.95 510.57,537.63 508.67,536.15 511.08,536.07" fill="#6a7a3a" stroke="none" stroke-width="0.6"/>
<text x="525.7" y="540.5" font-size="9.3" text-anchor="start" fill="#111" stroke="#111" stroke-width="0.22">Ru-MEA</text>
<polygon points="511.9,546.45 515.5,550.05 511.9,553.65 508.3,550.05" fill="#fff" stroke="#5aa030" stroke-width="0.6"/>
<polygon points="511.9,546.45 511.9,553.65 508.3,550.05" fill="#5aa030" stroke="none" stroke-width="0.6"/>
<text x="525.7" y="553.35" font-size="9.3" text-anchor="start" fill="#111" stroke="#111" stroke-width="0.22">Cu-cis-N2O2 SA</text>
<circle cx="511.9" cy="562.9" r="2.6" fill="#fff" stroke="#1a60c0" stroke-width="0.6"/>
<path d="M509,562.9 A2.9,2.9 0 0 0 514.8,562.9 Z" fill="#1a60c0"/>
<text x="525.7" y="566.2" font-size="9.3" text-anchor="start" fill="#111" stroke="#111" stroke-width="0.22">Cu SA</text>
<circle cx="511.9" cy="575.75" r="2.9" fill="#d09020"/>
<text x="525.7" y="579.05" font-size="9.3" text-anchor="start" fill="#111" stroke="#111" stroke-width="0.22"><tspan font-size="9.3">FeB</tspan><tspan font-size="6.05" dy="2.6">2</tspan></text>
<polygon points="511.9,585 515.5,588.6 511.9,592.2 508.3,588.6" fill="#6a7020" stroke="none" stroke-width="0.6"/>
<text x="525.7" y="591.9" font-size="9.3" text-anchor="start" fill="#111" stroke="#111" stroke-width="0.22">CuCo</text>
<circle cx="511.9" cy="601.45" r="2.9" fill="#5aa030"/>
<text x="525.7" y="604.75" font-size="9.3" text-anchor="start" fill="#111" stroke="#111" stroke-width="0.22"><tspan font-size="9.3">Fe</tspan><tspan font-size="6.05" dy="2.6">2</tspan><tspan font-size="9.3" dy="-2.6">TiO</tspan><tspan font-size="6.05" dy="2.6">5</tspan></text>
<circle cx="511.9" cy="614.3" r="2.9" fill="url(#sp1a50c0)"/>
<text x="525.7" y="617.6" font-size="9.3" text-anchor="start" fill="#111" stroke="#111" stroke-width="0.22"><tspan font-size="9.3">Pd-Co</tspan><tspan font-size="6.05" dy="2.6">3</tspan><tspan font-size="9.3" dy="-2.6">O</tspan><tspan font-size="6.05" dy="2.6">4</tspan><tspan font-size="9.3" dy="-2.6">/TM</tspan></text>
<circle cx="511.9" cy="627.15" r="2.6" fill="#fff" stroke="#d09a10" stroke-width="0.6"/>
<path d="M511.9,624.25 A2.9,2.9 0 0 1 511.9,630.05 Z" fill="#d09a10"/>
<text x="525.7" y="630.45" font-size="9.3" text-anchor="start" fill="#111" stroke="#111" stroke-width="0.22">RuMo</text>
<rect x="509.1" y="637.2" width="5.6" height="5.6" fill="#707a20" stroke="none" stroke-width="1"/>
<text x="525.7" y="643.3" font-size="9.3" text-anchor="start" fill="#111" stroke="#111" stroke-width="0.22">ISAA In-Pbene</text>
</svg></body></html>
